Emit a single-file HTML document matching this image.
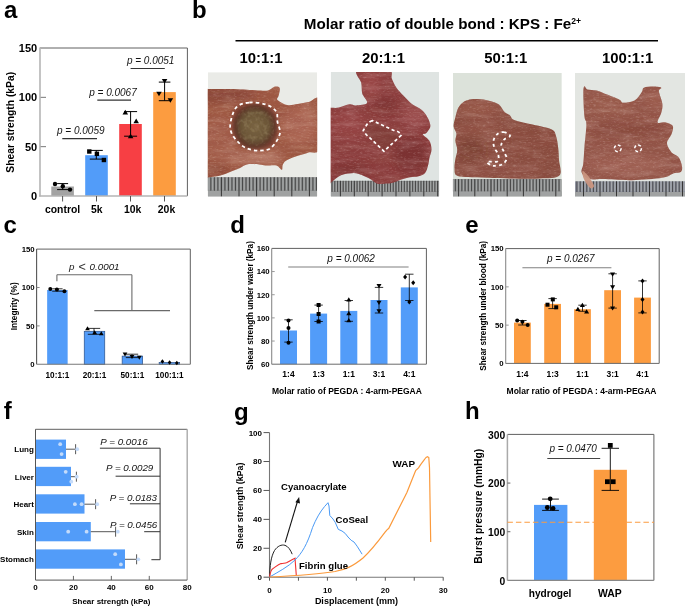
<!DOCTYPE html>
<html><head><meta charset="utf-8"><style>
html,body{margin:0;padding:0;background:#fff;}
svg{display:block;font-family:"Liberation Sans", sans-serif;will-change:transform;}
</style></head><body>
<svg width="685" height="606" viewBox="0 0 685 606">
<rect width="685" height="606" fill="#fff"/>
<text x="4" y="18.2" font-size="24" font-weight="bold" text-anchor="start" fill="#000">a</text>
<text x="192" y="18.2" font-size="24" font-weight="bold" text-anchor="start" fill="#000">b</text>
<text x="3.5" y="233" font-size="24" font-weight="bold" text-anchor="start" fill="#000">c</text>
<text x="230.3" y="233" font-size="24" font-weight="bold" text-anchor="start" fill="#000">d</text>
<text x="465.3" y="233" font-size="24" font-weight="bold" text-anchor="start" fill="#000">e</text>
<text x="3.7" y="419" font-size="24" font-weight="bold" text-anchor="start" fill="#000">f</text>
<text x="233.9" y="419.6" font-size="24" font-weight="bold" text-anchor="start" fill="#000">g</text>
<text x="465" y="419.2" font-size="24" font-weight="bold" text-anchor="start" fill="#000">h</text>
<line x1="40.0" y1="48.0" x2="187.4" y2="48.0" stroke="#606060" stroke-width="1"/>
<line x1="187.4" y1="48.0" x2="187.4" y2="196.0" stroke="#606060" stroke-width="1"/>
<line x1="40.0" y1="146.66666666666666" x2="46.0" y2="146.66666666666666" stroke="#777" stroke-width="1"/>
<line x1="40.0" y1="97.33333333333333" x2="46.0" y2="97.33333333333333" stroke="#777" stroke-width="1"/>
<rect x="51.3" y="186.5" width="22.6" height="9.5" fill="#a3a3a3"/>
<rect x="85.2" y="155.2" width="22.6" height="40.80000000000001" fill="#529cf9"/>
<rect x="119.2" y="124.0" width="22.6" height="72.0" fill="#f73f44"/>
<rect x="153.2" y="92.1" width="22.6" height="103.9" fill="#fc9c40"/>
<line x1="40.0" y1="47.5" x2="40.0" y2="196.6" stroke="#b5b5b5" stroke-width="1.6"/>
<line x1="39.2" y1="196.0" x2="187.4" y2="196.0" stroke="#b5b5b5" stroke-width="1.6"/>
<line x1="62.6" y1="196.0" x2="62.6" y2="201.5" stroke="#555" stroke-width="1"/>
<line x1="96.5" y1="196.0" x2="96.5" y2="201.5" stroke="#555" stroke-width="1"/>
<line x1="130.5" y1="196.0" x2="130.5" y2="201.5" stroke="#555" stroke-width="1"/>
<line x1="164.5" y1="196.0" x2="164.5" y2="201.5" stroke="#555" stroke-width="1"/>
<line x1="62.6" y1="183.6" x2="62.6" y2="189.6" stroke="#000" stroke-width="1"/>
<line x1="57.1" y1="183.6" x2="68.1" y2="183.6" stroke="#000" stroke-width="1"/>
<line x1="57.1" y1="189.6" x2="68.1" y2="189.6" stroke="#000" stroke-width="1"/>
<line x1="96.3" y1="150.4" x2="96.3" y2="159.1" stroke="#000" stroke-width="1"/>
<line x1="89.8" y1="150.4" x2="102.8" y2="150.4" stroke="#000" stroke-width="1"/>
<line x1="89.8" y1="159.1" x2="102.8" y2="159.1" stroke="#000" stroke-width="1"/>
<line x1="130.6" y1="111.6" x2="130.6" y2="136.2" stroke="#000" stroke-width="1"/>
<line x1="124.1" y1="111.6" x2="137.1" y2="111.6" stroke="#000" stroke-width="1"/>
<line x1="124.1" y1="136.2" x2="137.1" y2="136.2" stroke="#000" stroke-width="1"/>
<line x1="164.6" y1="82.1" x2="164.6" y2="100.7" stroke="#000" stroke-width="1"/>
<line x1="158.79999999999998" y1="82.1" x2="170.4" y2="82.1" stroke="#000" stroke-width="1"/>
<line x1="158.79999999999998" y1="100.7" x2="170.4" y2="100.7" stroke="#000" stroke-width="1"/>
<circle cx="55.00" cy="184.00" r="2.20" fill="#000"/>
<circle cx="62.80" cy="186.20" r="2.20" fill="#000"/>
<circle cx="70.00" cy="189.60" r="2.20" fill="#000"/>
<rect x="87.10" y="149.30" width="4.40" height="4.40" fill="#000"/>
<rect x="94.70" y="151.60" width="4.40" height="4.40" fill="#000"/>
<rect x="101.70" y="157.80" width="4.40" height="4.40" fill="#000"/>
<polygon points="125.30,109.83 128.07,114.45 122.53,114.45" fill="#000"/>
<polygon points="136.20,118.53 138.97,123.15 133.43,123.15" fill="#000"/>
<polygon points="130.60,133.73 133.37,138.35 127.83,138.35" fill="#000"/>
<polygon points="164.60,83.57 167.37,78.95 161.83,78.95" fill="#000"/>
<polygon points="159.00,96.37 161.77,91.75 156.23,91.75" fill="#000"/>
<polygon points="170.40,102.77 173.17,98.15 167.63,98.15" fill="#000"/>
<text x="57.0" y="134.3" font-size="10" font-style="italic" text-anchor="start" fill="#151515">p = 0.0059</text>
<line x1="62.3" y1="138.7" x2="97.0" y2="138.7" stroke="#333" stroke-width="1.2"/>
<text x="89.2" y="96.0" font-size="10" font-style="italic" text-anchor="start" fill="#151515">p = 0.0067</text>
<line x1="97.3" y1="100.2" x2="131.0" y2="100.2" stroke="#333" stroke-width="1.2"/>
<text x="126.9" y="63.8" font-size="10" font-style="italic" text-anchor="start" fill="#151515">p = 0.0051</text>
<line x1="130.6" y1="68.5" x2="164.8" y2="68.5" stroke="#333" stroke-width="1.2"/>
<text x="37.2" y="200.0" font-size="11" font-weight="bold" text-anchor="end" fill="#000">0</text>
<text x="37.2" y="150.66666666666666" font-size="11" font-weight="bold" text-anchor="end" fill="#000">50</text>
<text x="37.2" y="101.33333333333333" font-size="11" font-weight="bold" text-anchor="end" fill="#000">100</text>
<text x="37.2" y="52.0" font-size="11" font-weight="bold" text-anchor="end" fill="#000">150</text>
<text x="62.6" y="213.3" font-size="10.4" font-weight="bold" text-anchor="middle" fill="#000">control</text>
<text x="96.8" y="213.3" font-size="10.4" font-weight="bold" text-anchor="middle" fill="#000">5k</text>
<text x="132.6" y="213.3" font-size="10.4" font-weight="bold" text-anchor="middle" fill="#000">10k</text>
<text x="166.5" y="213.3" font-size="10.4" font-weight="bold" text-anchor="middle" fill="#000">20k</text>
<text x="14.3" y="122.3" font-size="10.3" font-weight="bold" text-anchor="middle" fill="#000" transform="rotate(-90 14.3 122.3)">Shear strength (kPa)</text>
<text x="303.8" y="29.0" font-size="15.2" font-weight="bold" text-anchor="start" fill="#000">Molar ratio of double bond : KPS : Fe<tspan font-size="8.6" dy="-5.4">2+</tspan></text>
<line x1="235.5" y1="40.8" x2="658.0" y2="40.8" stroke="#000" stroke-width="1.4"/>
<text x="261.0" y="63.1" font-size="14.9" font-weight="bold" text-anchor="middle" fill="#000">10:1:1</text>
<text x="383.4" y="63.1" font-size="14.9" font-weight="bold" text-anchor="middle" fill="#000">20:1:1</text>
<text x="505.8" y="63.1" font-size="14.9" font-weight="bold" text-anchor="middle" fill="#000">50:1:1</text>
<text x="627.7" y="63.1" font-size="14.9" font-weight="bold" text-anchor="middle" fill="#000">100:1:1</text>
<line x1="36.6" y1="249.1" x2="190.3" y2="249.1" stroke="#606060" stroke-width="1"/>
<line x1="190.3" y1="249.1" x2="190.3" y2="364.3" stroke="#606060" stroke-width="1"/>
<rect x="47.15" y="290.0" width="20.5" height="74.30000000000001" fill="#529cf9"/>
<rect x="84.25" y="331.3" width="20.5" height="33.0" fill="#529cf9" stroke="#2a4f88" stroke-width="0.7"/>
<rect x="122.15" y="356.1" width="20.5" height="8.199999999999989" fill="#529cf9" stroke="#2a4f88" stroke-width="0.7"/>
<rect x="159.15" y="362.6" width="20.5" height="1.6999999999999886" fill="#529cf9" stroke="#2a4f88" stroke-width="0.7"/>
<line x1="36.6" y1="249.1" x2="36.6" y2="364.3" stroke="#555" stroke-width="1.1"/>
<line x1="36.6" y1="364.3" x2="190.3" y2="364.3" stroke="#777" stroke-width="1.1"/>
<line x1="36.6" y1="325.9" x2="39.6" y2="325.9" stroke="#888" stroke-width="1"/>
<line x1="36.6" y1="287.5" x2="39.6" y2="287.5" stroke="#888" stroke-width="1"/>
<line x1="57.4" y1="288.8" x2="57.4" y2="291.2" stroke="#000" stroke-width="0.8"/>
<line x1="52.199999999999996" y1="288.8" x2="62.6" y2="288.8" stroke="#000" stroke-width="0.8"/>
<line x1="52.199999999999996" y1="291.2" x2="62.6" y2="291.2" stroke="#000" stroke-width="0.8"/>
<line x1="94.0" y1="328.4" x2="94.0" y2="334.3" stroke="#000" stroke-width="0.8"/>
<line x1="87.8" y1="328.4" x2="100.2" y2="328.4" stroke="#000" stroke-width="0.8"/>
<line x1="87.8" y1="334.3" x2="100.2" y2="334.3" stroke="#000" stroke-width="0.8"/>
<line x1="132.0" y1="354.2" x2="132.0" y2="357.6" stroke="#000" stroke-width="0.8"/>
<line x1="125.8" y1="354.2" x2="138.2" y2="354.2" stroke="#000" stroke-width="0.8"/>
<line x1="125.8" y1="357.6" x2="138.2" y2="357.6" stroke="#000" stroke-width="0.8"/>
<circle cx="50.30" cy="289.00" r="2.00" fill="#000"/>
<circle cx="56.90" cy="289.50" r="2.00" fill="#000"/>
<circle cx="64.40" cy="291.20" r="2.00" fill="#000"/>
<polygon points="87.50,326.21 89.89,330.20 85.11,330.20" fill="#000"/>
<polygon points="94.70,330.21 97.09,334.20 92.31,334.20" fill="#000"/>
<polygon points="101.30,331.31 103.69,335.30 98.91,335.30" fill="#000"/>
<polygon points="125.00,356.59 127.39,352.60 122.61,352.60" fill="#000"/>
<polygon points="132.00,358.89 134.39,354.90 129.61,354.90" fill="#000"/>
<polygon points="139.30,359.79 141.69,355.80 136.91,355.80" fill="#000"/>
<polygon points="162.40,359.35 164.20,361.60 162.40,363.85 160.60,361.60" fill="#000"/>
<polygon points="169.60,360.25 171.40,362.50 169.60,364.75 167.80,362.50" fill="#000"/>
<polygon points="176.80,360.75 178.60,363.00 176.80,365.25 175.00,363.00" fill="#000"/>
<line x1="56.9" y1="281.3" x2="56.9" y2="274.8" stroke="#6a6a6a" stroke-width="1.1"/>
<line x1="56.9" y1="274.8" x2="131.9" y2="274.8" stroke="#6a6a6a" stroke-width="1.1"/>
<line x1="131.9" y1="274.8" x2="131.9" y2="310.6" stroke="#6a6a6a" stroke-width="1.1"/>
<line x1="94.3" y1="310.6" x2="170.0" y2="310.6" stroke="#6a6a6a" stroke-width="1.1"/>
<text x="69.0" y="270.4" font-size="9.8" font-style="italic" text-anchor="start" fill="#151515">p</text>
<text x="78.4" y="270.6" font-size="12.6" text-anchor="start" fill="#333">&lt;</text>
<text x="89.6" y="270.4" font-size="9.8" font-style="italic" text-anchor="start" fill="#151515">0.0001</text>
<text x="34.7" y="367.1" font-size="7.8" font-weight="bold" text-anchor="end" fill="#000">0</text>
<text x="34.7" y="328.7" font-size="7.8" font-weight="bold" text-anchor="end" fill="#000">50</text>
<text x="34.7" y="290.3" font-size="7.8" font-weight="bold" text-anchor="end" fill="#000">100</text>
<text x="34.7" y="251.9" font-size="7.8" font-weight="bold" text-anchor="end" fill="#000">150</text>
<text x="57.4" y="377.7" font-size="8.2" font-weight="bold" text-anchor="middle" fill="#000">10:1:1</text>
<text x="94.5" y="377.7" font-size="8.2" font-weight="bold" text-anchor="middle" fill="#000">20:1:1</text>
<text x="132.4" y="377.7" font-size="8.2" font-weight="bold" text-anchor="middle" fill="#000">50:1:1</text>
<text x="169.4" y="377.7" font-size="8.2" font-weight="bold" text-anchor="middle" fill="#000">100:1:1</text>
<text x="17.3" y="306.3" font-size="8.3" font-weight="bold" text-anchor="middle" fill="#000" transform="rotate(-90 17.3 306.3)">Integrity (%)</text>
<line x1="271.7" y1="248.4" x2="426.4" y2="248.4" stroke="#606060" stroke-width="1"/>
<line x1="426.4" y1="248.4" x2="426.4" y2="364.2" stroke="#606060" stroke-width="1"/>
<rect x="280.0" y="330.5" width="17.0" height="33.69999999999999" fill="#529cf9"/>
<rect x="310.1" y="313.6" width="17.0" height="50.599999999999966" fill="#529cf9"/>
<rect x="340.3" y="310.9" width="17.0" height="53.30000000000001" fill="#529cf9"/>
<rect x="370.5" y="300.0" width="17.0" height="64.19999999999999" fill="#529cf9"/>
<rect x="400.8" y="287.4" width="17.0" height="76.80000000000001" fill="#529cf9"/>
<line x1="271.7" y1="248.4" x2="271.7" y2="364.2" stroke="#8a8a8a" stroke-width="1.1"/>
<line x1="271.7" y1="364.2" x2="426.4" y2="364.2" stroke="#6a6a6a" stroke-width="1.0"/>
<line x1="271.7" y1="341.03999999999996" x2="274.7" y2="341.03999999999996" stroke="#999" stroke-width="1"/>
<line x1="271.7" y1="317.88" x2="274.7" y2="317.88" stroke="#999" stroke-width="1"/>
<line x1="271.7" y1="294.72" x2="274.7" y2="294.72" stroke="#999" stroke-width="1"/>
<line x1="271.7" y1="271.56" x2="274.7" y2="271.56" stroke="#999" stroke-width="1"/>
<line x1="288.5" y1="319.8" x2="288.5" y2="342.1" stroke="#000" stroke-width="0.8"/>
<line x1="284.3" y1="319.8" x2="292.7" y2="319.8" stroke="#000" stroke-width="0.8"/>
<line x1="284.3" y1="342.1" x2="292.7" y2="342.1" stroke="#000" stroke-width="0.8"/>
<line x1="318.6" y1="305.1" x2="318.6" y2="321.5" stroke="#000" stroke-width="0.8"/>
<line x1="314.40000000000003" y1="305.1" x2="322.8" y2="305.1" stroke="#000" stroke-width="0.8"/>
<line x1="314.40000000000003" y1="321.5" x2="322.8" y2="321.5" stroke="#000" stroke-width="0.8"/>
<line x1="348.8" y1="300.5" x2="348.8" y2="321.3" stroke="#000" stroke-width="0.8"/>
<line x1="344.6" y1="300.5" x2="353.0" y2="300.5" stroke="#000" stroke-width="0.8"/>
<line x1="344.6" y1="321.3" x2="353.0" y2="321.3" stroke="#000" stroke-width="0.8"/>
<line x1="379.0" y1="287.4" x2="379.0" y2="313.0" stroke="#000" stroke-width="0.8"/>
<line x1="374.8" y1="287.4" x2="383.2" y2="287.4" stroke="#000" stroke-width="0.8"/>
<line x1="374.8" y1="313.0" x2="383.2" y2="313.0" stroke="#000" stroke-width="0.8"/>
<line x1="409.3" y1="274.2" x2="409.3" y2="300.5" stroke="#000" stroke-width="0.8"/>
<line x1="405.1" y1="274.2" x2="413.5" y2="274.2" stroke="#000" stroke-width="0.8"/>
<line x1="405.1" y1="300.5" x2="413.5" y2="300.5" stroke="#000" stroke-width="0.8"/>
<circle cx="288.50" cy="320.60" r="2.00" fill="#000"/>
<circle cx="288.50" cy="328.00" r="2.00" fill="#000"/>
<circle cx="288.50" cy="342.70" r="2.00" fill="#000"/>
<rect x="316.60" y="303.00" width="4.00" height="4.00" fill="#000"/>
<rect x="316.60" y="312.00" width="4.00" height="4.00" fill="#000"/>
<rect x="316.60" y="319.50" width="4.00" height="4.00" fill="#000"/>
<polygon points="348.80,297.28 351.32,301.48 346.28,301.48" fill="#000"/>
<polygon points="348.80,310.98 351.32,315.18 346.28,315.18" fill="#000"/>
<polygon points="348.80,318.08 351.32,322.28 346.28,322.28" fill="#000"/>
<polygon points="379.00,288.22 381.52,284.02 376.48,284.02" fill="#000"/>
<polygon points="379.00,304.92 381.52,300.72 376.48,300.72" fill="#000"/>
<polygon points="379.00,313.42 381.52,309.22 376.48,309.22" fill="#000"/>
<polygon points="405.10,274.50 407.10,277.00 405.10,279.50 403.10,277.00" fill="#000"/>
<polygon points="413.20,280.20 415.20,282.70 413.20,285.20 411.20,282.70" fill="#000"/>
<polygon points="409.30,299.40 411.30,301.90 409.30,304.40 407.30,301.90" fill="#000"/>
<text x="327.3" y="262.4" font-size="10" font-style="italic" text-anchor="start" fill="#111">p = 0.0062</text>
<line x1="288.2" y1="267.0" x2="408.6" y2="267.0" stroke="#808080" stroke-width="1.1"/>
<text x="269.7" y="367.0" font-size="7.8" font-weight="bold" text-anchor="end" fill="#000">60</text>
<text x="269.7" y="343.84" font-size="7.8" font-weight="bold" text-anchor="end" fill="#000">80</text>
<text x="269.7" y="320.68" font-size="7.8" font-weight="bold" text-anchor="end" fill="#000">100</text>
<text x="269.7" y="297.52000000000004" font-size="7.8" font-weight="bold" text-anchor="end" fill="#000">120</text>
<text x="269.7" y="274.36" font-size="7.8" font-weight="bold" text-anchor="end" fill="#000">140</text>
<text x="269.7" y="251.2" font-size="7.8" font-weight="bold" text-anchor="end" fill="#000">160</text>
<text x="288.5" y="376.6" font-size="8.5" font-weight="bold" text-anchor="middle" fill="#000">1:4</text>
<text x="318.6" y="376.6" font-size="8.5" font-weight="bold" text-anchor="middle" fill="#000">1:3</text>
<text x="348.8" y="376.6" font-size="8.5" font-weight="bold" text-anchor="middle" fill="#000">1:1</text>
<text x="379.0" y="376.6" font-size="8.5" font-weight="bold" text-anchor="middle" fill="#000">3:1</text>
<text x="409.3" y="376.6" font-size="8.5" font-weight="bold" text-anchor="middle" fill="#000">4:1</text>
<text x="252.6" y="305.5" font-size="8.2" font-weight="bold" text-anchor="middle" fill="#000" transform="rotate(-90 252.6 305.5)">Shear strength under water (kPa)</text>
<text x="272.0" y="394.4" font-size="8.5" font-weight="bold" text-anchor="start" fill="#000">Molar ratio of PEGDA : 4-arm-PEGAA</text>
<line x1="505.7" y1="248.6" x2="659.2" y2="248.6" stroke="#606060" stroke-width="1"/>
<line x1="659.2" y1="248.6" x2="659.2" y2="363.4" stroke="#606060" stroke-width="1"/>
<rect x="514.0" y="322.6" width="16.8" height="40.799999999999955" fill="#fc9c40"/>
<rect x="544.2" y="303.9" width="16.8" height="59.5" fill="#fc9c40"/>
<rect x="574.1" y="309.2" width="16.8" height="54.19999999999999" fill="#fc9c40"/>
<rect x="604.2" y="290.2" width="16.8" height="73.19999999999999" fill="#fc9c40"/>
<rect x="634.1" y="297.6" width="16.8" height="65.79999999999995" fill="#fc9c40"/>
<line x1="505.7" y1="248.6" x2="505.7" y2="363.4" stroke="#8a8a8a" stroke-width="1.1"/>
<line x1="505.7" y1="363.4" x2="659.2" y2="363.4" stroke="#6a6a6a" stroke-width="1.0"/>
<line x1="505.7" y1="325.1333333333333" x2="508.7" y2="325.1333333333333" stroke="#999" stroke-width="1"/>
<line x1="505.7" y1="286.8666666666667" x2="508.7" y2="286.8666666666667" stroke="#999" stroke-width="1"/>
<line x1="522.4" y1="320.5" x2="522.4" y2="325.0" stroke="#000" stroke-width="0.8"/>
<line x1="518.1999999999999" y1="320.5" x2="526.6" y2="320.5" stroke="#000" stroke-width="0.8"/>
<line x1="518.1999999999999" y1="325.0" x2="526.6" y2="325.0" stroke="#000" stroke-width="0.8"/>
<line x1="552.6" y1="298.6" x2="552.6" y2="308.6" stroke="#000" stroke-width="0.8"/>
<line x1="548.4" y1="298.6" x2="556.8000000000001" y2="298.6" stroke="#000" stroke-width="0.8"/>
<line x1="548.4" y1="308.6" x2="556.8000000000001" y2="308.6" stroke="#000" stroke-width="0.8"/>
<line x1="582.5" y1="305.2" x2="582.5" y2="311.3" stroke="#000" stroke-width="0.8"/>
<line x1="578.3" y1="305.2" x2="586.7" y2="305.2" stroke="#000" stroke-width="0.8"/>
<line x1="578.3" y1="311.3" x2="586.7" y2="311.3" stroke="#000" stroke-width="0.8"/>
<line x1="612.6" y1="273.8" x2="612.6" y2="308.1" stroke="#000" stroke-width="0.8"/>
<line x1="608.4" y1="273.8" x2="616.8000000000001" y2="273.8" stroke="#000" stroke-width="0.8"/>
<line x1="608.4" y1="308.1" x2="616.8000000000001" y2="308.1" stroke="#000" stroke-width="0.8"/>
<line x1="642.5" y1="280.9" x2="642.5" y2="312.9" stroke="#000" stroke-width="0.8"/>
<line x1="638.3" y1="280.9" x2="646.7" y2="280.9" stroke="#000" stroke-width="0.8"/>
<line x1="638.3" y1="312.9" x2="646.7" y2="312.9" stroke="#000" stroke-width="0.8"/>
<circle cx="517.20" cy="320.50" r="2.00" fill="#000"/>
<circle cx="522.40" cy="321.80" r="2.00" fill="#000"/>
<circle cx="527.70" cy="325.00" r="2.00" fill="#000"/>
<rect x="545.50" y="302.70" width="4.00" height="4.00" fill="#000"/>
<rect x="550.80" y="297.40" width="4.00" height="4.00" fill="#000"/>
<rect x="554.20" y="305.30" width="4.00" height="4.00" fill="#000"/>
<polygon points="577.90,306.68 580.42,310.88 575.38,310.88" fill="#000"/>
<polygon points="582.40,302.68 584.92,306.88 579.88,306.88" fill="#000"/>
<polygon points="586.60,309.28 589.12,313.48 584.08,313.48" fill="#000"/>
<polygon points="612.60,276.82 615.12,272.62 610.08,272.62" fill="#000"/>
<polygon points="612.60,289.52 615.12,285.32 610.08,285.32" fill="#000"/>
<polygon points="612.60,310.62 615.12,306.42 610.08,306.42" fill="#000"/>
<polygon points="642.50,278.40 644.50,280.90 642.50,283.40 640.50,280.90" fill="#000"/>
<polygon points="642.50,296.90 644.50,299.40 642.50,301.90 640.50,299.40" fill="#000"/>
<polygon points="642.50,309.60 644.50,312.10 642.50,314.60 640.50,312.10" fill="#000"/>
<text x="547.0" y="262.4" font-size="10" font-style="italic" text-anchor="start" fill="#111">p = 0.0267</text>
<line x1="522.4" y1="267.7" x2="611.4" y2="267.7" stroke="#808080" stroke-width="1.1"/>
<text x="503.7" y="366.2" font-size="7.8" font-weight="bold" text-anchor="end" fill="#000">0</text>
<text x="503.7" y="327.93333333333334" font-size="7.8" font-weight="bold" text-anchor="end" fill="#000">50</text>
<text x="503.7" y="289.6666666666667" font-size="7.8" font-weight="bold" text-anchor="end" fill="#000">100</text>
<text x="503.7" y="251.4" font-size="7.8" font-weight="bold" text-anchor="end" fill="#000">150</text>
<text x="522.4" y="376.6" font-size="8.5" font-weight="bold" text-anchor="middle" fill="#000">1:4</text>
<text x="552.6" y="376.6" font-size="8.5" font-weight="bold" text-anchor="middle" fill="#000">1:3</text>
<text x="582.5" y="376.6" font-size="8.5" font-weight="bold" text-anchor="middle" fill="#000">1:1</text>
<text x="612.6" y="376.6" font-size="8.5" font-weight="bold" text-anchor="middle" fill="#000">3:1</text>
<text x="642.5" y="376.6" font-size="8.5" font-weight="bold" text-anchor="middle" fill="#000">4:1</text>
<text x="485.6" y="305.8" font-size="8.2" font-weight="bold" text-anchor="middle" fill="#000" transform="rotate(-90 485.6 305.8)">Shear strength under blood (kPa)</text>
<text x="506.6" y="393.7" font-size="8.5" font-weight="bold" text-anchor="start" fill="#000">Molar ratio of PEGDA : 4-arm-PEGAA</text>
<line x1="35.5" y1="429.3" x2="187.2" y2="429.3" stroke="#606060" stroke-width="1"/>
<line x1="187.2" y1="429.3" x2="187.2" y2="580.1" stroke="#aaa" stroke-width="1.4"/>
<rect x="35.5" y="439.6" width="30.5" height="19.3" fill="#529cf9"/>
<line x1="66.0" y1="449.2" x2="75.6" y2="449.2" stroke="#444" stroke-width="0.9"/>
<line x1="75.6" y1="444.2" x2="75.6" y2="454.2" stroke="#444" stroke-width="0.9"/>
<circle cx="60.2" cy="444.2" r="1.9" fill="#c4dbfa"/>
<circle cx="61.6" cy="454.1" r="1.9" fill="#c4dbfa"/>
<circle cx="77.2" cy="449.2" r="1.9" fill="#c4dbfa"/>
<text x="33.9" y="452.2" font-size="8" font-weight="bold" text-anchor="end" fill="#000">Lung</text>
<rect x="35.5" y="466.8" width="35.5" height="19.3" fill="#529cf9"/>
<line x1="71.0" y1="476.7" x2="76.4" y2="476.7" stroke="#444" stroke-width="0.9"/>
<line x1="76.4" y1="471.7" x2="76.4" y2="481.7" stroke="#444" stroke-width="0.9"/>
<circle cx="65.7" cy="471.8" r="1.9" fill="#c4dbfa"/>
<circle cx="71.3" cy="481.7" r="1.9" fill="#c4dbfa"/>
<circle cx="76.7" cy="476.7" r="1.9" fill="#c4dbfa"/>
<text x="33.9" y="479.7" font-size="8" font-weight="bold" text-anchor="end" fill="#000">Liver</text>
<rect x="35.5" y="494.3" width="49.0" height="19.3" fill="#529cf9"/>
<line x1="84.5" y1="504.2" x2="95.6" y2="504.2" stroke="#444" stroke-width="0.9"/>
<line x1="95.6" y1="499.2" x2="95.6" y2="509.2" stroke="#444" stroke-width="0.9"/>
<circle cx="74.9" cy="504.2" r="1.9" fill="#c4dbfa"/>
<circle cx="81.6" cy="504.2" r="1.9" fill="#c4dbfa"/>
<circle cx="97.2" cy="504.2" r="1.9" fill="#c4dbfa"/>
<text x="33.9" y="507.2" font-size="8" font-weight="bold" text-anchor="end" fill="#000">Heart</text>
<rect x="35.5" y="522.0" width="55.3" height="19.3" fill="#529cf9"/>
<line x1="90.8" y1="531.7" x2="115.6" y2="531.7" stroke="#444" stroke-width="0.9"/>
<line x1="115.6" y1="526.7" x2="115.6" y2="536.7" stroke="#444" stroke-width="0.9"/>
<circle cx="68.2" cy="531.7" r="1.9" fill="#c4dbfa"/>
<circle cx="86.6" cy="531.7" r="1.9" fill="#c4dbfa"/>
<circle cx="117.8" cy="531.7" r="1.9" fill="#c4dbfa"/>
<text x="33.9" y="534.7" font-size="8" font-weight="bold" text-anchor="end" fill="#000">Skin</text>
<rect x="35.5" y="549.4" width="89.5" height="19.3" fill="#529cf9"/>
<line x1="125.0" y1="559.3" x2="136.6" y2="559.3" stroke="#444" stroke-width="0.9"/>
<line x1="136.6" y1="554.3" x2="136.6" y2="564.3" stroke="#444" stroke-width="0.9"/>
<circle cx="115.2" cy="554.2" r="1.9" fill="#c4dbfa"/>
<circle cx="120.9" cy="564.4" r="1.9" fill="#c4dbfa"/>
<circle cx="138.3" cy="559.3" r="1.9" fill="#c4dbfa"/>
<text x="33.9" y="562.3" font-size="8" font-weight="bold" text-anchor="end" fill="#000">Stomach</text>
<line x1="35.5" y1="429.3" x2="35.5" y2="580.1" stroke="#555" stroke-width="1.0"/>
<line x1="35.5" y1="580.1" x2="187.2" y2="580.1" stroke="#555" stroke-width="1.0"/>
<text x="35.5" y="589.9" font-size="8" font-weight="bold" text-anchor="middle" fill="#000">0</text>
<line x1="73.425" y1="575.9" x2="73.425" y2="580.1" stroke="#555" stroke-width="0.9"/>
<text x="73.425" y="589.9" font-size="8" font-weight="bold" text-anchor="middle" fill="#000">20</text>
<line x1="111.35" y1="575.9" x2="111.35" y2="580.1" stroke="#555" stroke-width="0.9"/>
<text x="111.35" y="589.9" font-size="8" font-weight="bold" text-anchor="middle" fill="#000">40</text>
<line x1="149.27499999999998" y1="575.9" x2="149.27499999999998" y2="580.1" stroke="#555" stroke-width="0.9"/>
<text x="149.27499999999998" y="589.9" font-size="8" font-weight="bold" text-anchor="middle" fill="#000">60</text>
<text x="187.2" y="589.9" font-size="8" font-weight="bold" text-anchor="middle" fill="#000">80</text>
<text x="111.3" y="603.8" font-size="8" font-weight="bold" text-anchor="middle" fill="#000">Shear strength (kPa)</text>
<text x="100.3" y="444.5" font-size="9.8" font-style="italic" text-anchor="start" fill="#151515">P = 0.0016</text>
<line x1="99.9" y1="448.2" x2="160.1" y2="448.2" stroke="#333" stroke-width="1.0"/>
<text x="106.0" y="471.1" font-size="9.8" font-style="italic" text-anchor="start" fill="#151515">P = 0.0029</text>
<line x1="115.6" y1="476.2" x2="160.1" y2="476.2" stroke="#333" stroke-width="1.0"/>
<text x="109.7" y="501.3" font-size="9.8" font-style="italic" text-anchor="start" fill="#151515">P = 0.0183</text>
<line x1="129.9" y1="503.8" x2="160.1" y2="503.8" stroke="#333" stroke-width="1.0"/>
<text x="110.0" y="527.6" font-size="9.8" font-style="italic" text-anchor="start" fill="#151515">P = 0.0456</text>
<line x1="144.2" y1="531.7" x2="160.1" y2="531.7" stroke="#333" stroke-width="1.0"/>
<line x1="151.4" y1="559.7" x2="160.1" y2="559.7" stroke="#333" stroke-width="1.0"/>
<line x1="160.1" y1="448.2" x2="160.1" y2="559.7" stroke="#333" stroke-width="1.0"/>
<line x1="269.5" y1="432.6" x2="269.5" y2="577.2" stroke="#777" stroke-width="1.1"/>
<line x1="269.5" y1="577.2" x2="443.2" y2="577.2" stroke="#777" stroke-width="1.1"/>
<line x1="263.5" y1="577.2" x2="269.5" y2="577.2" stroke="#555" stroke-width="1"/>
<text x="262.0" y="580.1" font-size="8" font-weight="bold" text-anchor="end" fill="#000">0</text>
<line x1="263.5" y1="548.2800000000001" x2="269.5" y2="548.2800000000001" stroke="#555" stroke-width="1"/>
<text x="262.0" y="551.1800000000001" font-size="8" font-weight="bold" text-anchor="end" fill="#000">20</text>
<line x1="263.5" y1="519.36" x2="269.5" y2="519.36" stroke="#555" stroke-width="1"/>
<text x="262.0" y="522.26" font-size="8" font-weight="bold" text-anchor="end" fill="#000">40</text>
<line x1="263.5" y1="490.44000000000005" x2="269.5" y2="490.44000000000005" stroke="#555" stroke-width="1"/>
<text x="262.0" y="493.34000000000003" font-size="8" font-weight="bold" text-anchor="end" fill="#000">60</text>
<line x1="263.5" y1="461.52000000000004" x2="269.5" y2="461.52000000000004" stroke="#555" stroke-width="1"/>
<text x="262.0" y="464.42" font-size="8" font-weight="bold" text-anchor="end" fill="#000">80</text>
<line x1="263.5" y1="432.6" x2="269.5" y2="432.6" stroke="#555" stroke-width="1"/>
<text x="262.0" y="435.5" font-size="8" font-weight="bold" text-anchor="end" fill="#000">100</text>
<line x1="269.5" y1="577.2" x2="269.5" y2="580.7" stroke="#555" stroke-width="1"/>
<line x1="298.45" y1="577.2" x2="298.45" y2="580.7" stroke="#555" stroke-width="1"/>
<line x1="327.4" y1="577.2" x2="327.4" y2="580.7" stroke="#555" stroke-width="1"/>
<line x1="356.35" y1="577.2" x2="356.35" y2="580.7" stroke="#555" stroke-width="1"/>
<line x1="385.3" y1="577.2" x2="385.3" y2="580.7" stroke="#555" stroke-width="1"/>
<line x1="414.25" y1="577.2" x2="414.25" y2="580.7" stroke="#555" stroke-width="1"/>
<line x1="443.2" y1="577.2" x2="443.2" y2="580.7" stroke="#555" stroke-width="1"/>
<text x="269.5" y="592.6" font-size="8" font-weight="bold" text-anchor="middle" fill="#000">0</text>
<text x="327.4" y="592.6" font-size="8" font-weight="bold" text-anchor="middle" fill="#000">10</text>
<text x="385.3" y="592.6" font-size="8" font-weight="bold" text-anchor="middle" fill="#000">20</text>
<text x="443.2" y="592.6" font-size="8" font-weight="bold" text-anchor="middle" fill="#000">30</text>
<text x="356.4" y="603.8" font-size="9" font-weight="bold" text-anchor="middle" fill="#000">Displacement (mm)</text>
<text x="242.6" y="505.9" font-size="8.9" font-weight="bold" text-anchor="middle" fill="#000" transform="rotate(-90 242.6 505.9)">Shear strength (kPa)</text>
<path d="M269.6,577 C269.9,566 270.8,557 274.5,550.5 C277.5,546 281.5,544.3 285,545.3 C288.5,546.6 290.5,550 292.2,554.2" fill="none" stroke="#222" stroke-width="1.0"/>
<path d="M269.6,577 C270.3,572 271,569.5 273,568.5 C276,566.5 278,564.6 281,563.6 C284,563 285,563.5 287,562.6 C290,561 292,559.6 295,558.2 L296.3,575.5" fill="none" stroke="#f03030" stroke-width="1.1"/>
<path d="M269.6,577 C278,572 288,567 295,560 C302,553 307,545 312.6,527.4 C316,519 320,512 324.5,506.6 L328,502.7 L329,506 L329.8,515.5 L333,519 L335.3,522.5 L338.3,529.4 L342,531 L345.2,533.4 L348,537 L351.2,540.3 L354,542 L357.1,546.2 L359.5,550 L362.1,554.2" fill="none" stroke="#4a9af5" stroke-width="1.0"/>
<path d="M269.6,577 C300,575.5 320,574 335,571.5 C345,569.5 352,567 363,558 C372,550 380,539 386.5,530.3 L388.8,528.3 C393,520 400,506 406.9,492.5 C410,485 413,477 415.6,470.7 L418.5,467.8 C421,464 423,461.5 426,457.5 L427.5,456.7 L428.8,457.6 L429.5,467.8 L430.7,541.9" fill="none" stroke="#fb9a3c" stroke-width="1.2"/>
<line x1="285.2" y1="542.3" x2="297.6" y2="501" stroke="#111" stroke-width="1.1"/>
<polygon points="299.10,497.00 300.00,503.50 295.40,502.30" fill="#111"/>
<text x="281.0" y="490.4" font-size="9.6" font-weight="bold" text-anchor="start" fill="#000">Cyanoacrylate</text>
<text x="335.6" y="522.5" font-size="9.6" font-weight="bold" text-anchor="start" fill="#000">CoSeal</text>
<text x="299.0" y="569.0" font-size="9.6" font-weight="bold" text-anchor="start" fill="#000">Fibrin glue</text>
<text x="392.5" y="467.2" font-size="9.9" font-weight="bold" text-anchor="start" fill="#000">WAP</text>
<line x1="507.4" y1="434.4" x2="653.9" y2="434.4" stroke="#606060" stroke-width="1"/>
<line x1="653.9" y1="434.4" x2="653.9" y2="580.4" stroke="#606060" stroke-width="1"/>
<rect x="534.0" y="504.9" width="33.4" height="75.5" fill="#529cf9"/>
<rect x="593.8" y="469.8" width="33.1" height="110.59999999999997" fill="#fc9c40"/>
<line x1="507.4" y1="434.4" x2="507.4" y2="580.4" stroke="#aaa" stroke-width="1.5"/>
<line x1="507.4" y1="580.4" x2="653.9" y2="580.4" stroke="#888" stroke-width="1.2"/>
<line x1="507.4" y1="531.7333333333333" x2="510.4" y2="531.7333333333333" stroke="#666" stroke-width="1"/>
<line x1="507.4" y1="483.0666666666666" x2="510.4" y2="483.0666666666666" stroke="#666" stroke-width="1"/>
<line x1="507.4" y1="522.3" x2="653.9" y2="522.3" stroke="#fc9c40" stroke-width="1.1" stroke-dasharray="5.5,3"/>
<line x1="550.5" y1="499.1" x2="550.5" y2="510.4" stroke="#000" stroke-width="0.9"/>
<line x1="542.1" y1="499.1" x2="558.9" y2="499.1" stroke="#000" stroke-width="0.9"/>
<line x1="542.1" y1="510.4" x2="558.9" y2="510.4" stroke="#000" stroke-width="0.9"/>
<line x1="610.3" y1="448.3" x2="610.3" y2="490.4" stroke="#000" stroke-width="0.9"/>
<line x1="601.5999999999999" y1="448.3" x2="619.0" y2="448.3" stroke="#000" stroke-width="0.9"/>
<line x1="601.5999999999999" y1="490.4" x2="619.0" y2="490.4" stroke="#000" stroke-width="0.9"/>
<circle cx="550.20" cy="498.80" r="2.40" fill="#000"/>
<circle cx="547.30" cy="507.50" r="2.40" fill="#000"/>
<circle cx="553.10" cy="508.40" r="2.40" fill="#000"/>
<rect x="607.90" y="443.00" width="4.80" height="4.80" fill="#000"/>
<rect x="605.00" y="479.30" width="4.80" height="4.80" fill="#000"/>
<rect x="610.80" y="479.30" width="4.80" height="4.80" fill="#000"/>
<text x="549.4" y="452.4" font-size="10" font-style="italic" text-anchor="start" fill="#151515">p = 0.0470</text>
<line x1="547.3" y1="458.5" x2="600.2" y2="458.5" stroke="#444" stroke-width="1.1"/>
<text x="505.2" y="584.8" font-size="10.3" font-weight="bold" text-anchor="end" fill="#000">0</text>
<text x="505.2" y="536.1333333333333" font-size="10.3" font-weight="bold" text-anchor="end" fill="#000">100</text>
<text x="505.2" y="487.4666666666666" font-size="10.3" font-weight="bold" text-anchor="end" fill="#000">200</text>
<text x="505.2" y="438.79999999999995" font-size="10.3" font-weight="bold" text-anchor="end" fill="#000">300</text>
<text x="550.1" y="596.8" font-size="10.1" font-weight="bold" text-anchor="middle" fill="#000">hydrogel</text>
<text x="609.9" y="596.8" font-size="10.4" font-weight="bold" text-anchor="middle" fill="#000">WAP</text>
<text x="482.3" y="506.3" font-size="10.3" font-weight="bold" text-anchor="middle" fill="#000" transform="rotate(-90 482.3 506.3)">Burst pressure (mmHg)</text>
<defs><filter id="tex" x="0" y="0" width="100%" height="100%"><feTurbulence type="fractalNoise" baseFrequency="0.05 0.22" numOctaves="3" seed="3" result="n"/><feColorMatrix in="n" type="matrix" values="0 0 0 0 1  0 0 0 0 0.85  0 0 0 0 0.85  1.3 0 0 0 -0.55" result="m"/><feComposite in="m" in2="SourceGraphic" operator="in"/></filter><filter id="texd" x="0" y="0" width="100%" height="100%"><feTurbulence type="fractalNoise" baseFrequency="0.03 0.12" numOctaves="2" seed="11" result="n"/><feColorMatrix in="n" type="matrix" values="0 0 0 0 0.3  0 0 0 0 0.08  0 0 0 0 0.06  1.4 0 0 0 -0.6" result="m"/><feComposite in="m" in2="SourceGraphic" operator="in"/></filter><filter id="tex2" x="0" y="0" width="100%" height="100%"><feTurbulence type="fractalNoise" baseFrequency="0.25" numOctaves="2" seed="7" result="n"/><feColorMatrix in="n" type="matrix" values="0 0 0 0 0.62  0 0 0 0 0.52  0 0 0 0 0.3  1.6 0 0 0 -0.7" result="m"/><feComposite in="m" in2="SourceGraphic" operator="in"/></filter><radialGradient id="patch1" cx="0.5" cy="0.5" r="0.5"><stop offset="0" stop-color="#7a6442"/><stop offset="0.62" stop-color="#6a5436"/><stop offset="0.84" stop-color="#5c3628"/><stop offset="1" stop-color="#6a3428" stop-opacity="0.6"/></radialGradient><filter id="blur1" x="-20%" y="-20%" width="140%" height="140%"><feGaussianBlur stdDeviation="1.6"/></filter><filter id="texf" x="0" y="0" width="100%" height="100%"><feTurbulence type="fractalNoise" baseFrequency="0.3 0.8" numOctaves="2" seed="5" result="n"/><feColorMatrix in="n" type="matrix" values="0 0 0 0 1  0 0 0 0 0.9  0 0 0 0 0.88  2.2 0 0 0 -1.15" result="m"/><feComposite in="m" in2="SourceGraphic" operator="in"/></filter><filter id="vblur" x="-30%" y="-30%" width="160%" height="160%"><feGaussianBlur stdDeviation="4"/></filter></defs>
<clipPath id="clip1"><rect x="207.8" y="72.2" width="109.39999999999998" height="124.39999999999999"/></clipPath>
<g clip-path="url(#clip1)">
<rect x="207.8" y="72.2" width="109.39999999999998" height="124.39999999999999" fill="#eaebe7"/>
<rect x="207.8" y="177.2" width="109.39999999999998" height="19.400000000000006" fill="#8e9090"/>
<rect x="207.8" y="190.78" width="109.39999999999998" height="5.820000000000001" fill="#a0a2a2"/>
<line x1="207.32" y1="177.2" x2="207.32" y2="190.78" stroke="#353535" stroke-width="0.8"/>
<line x1="209.08" y1="178.2" x2="209.08" y2="189.81" stroke="#acaeae" stroke-width="0.8"/>
<line x1="210.84" y1="177.2" x2="210.84" y2="190.78" stroke="#353535" stroke-width="0.8"/>
<line x1="212.60" y1="178.2" x2="212.60" y2="189.81" stroke="#acaeae" stroke-width="0.8"/>
<line x1="214.36" y1="177.2" x2="214.36" y2="190.78" stroke="#353535" stroke-width="0.8"/>
<line x1="216.12" y1="178.2" x2="216.12" y2="189.81" stroke="#acaeae" stroke-width="0.8"/>
<line x1="217.88" y1="177.2" x2="217.88" y2="190.78" stroke="#353535" stroke-width="0.8"/>
<line x1="219.64" y1="178.2" x2="219.64" y2="189.81" stroke="#acaeae" stroke-width="0.8"/>
<line x1="221.40" y1="177.2" x2="221.40" y2="196.6" stroke="#353535" stroke-width="1.0"/>
<line x1="223.16" y1="178.2" x2="223.16" y2="189.81" stroke="#acaeae" stroke-width="0.8"/>
<line x1="224.92" y1="177.2" x2="224.92" y2="190.78" stroke="#353535" stroke-width="0.8"/>
<line x1="226.68" y1="178.2" x2="226.68" y2="189.81" stroke="#acaeae" stroke-width="0.8"/>
<line x1="228.44" y1="177.2" x2="228.44" y2="190.78" stroke="#353535" stroke-width="0.8"/>
<line x1="230.20" y1="178.2" x2="230.20" y2="189.81" stroke="#acaeae" stroke-width="0.8"/>
<line x1="231.96" y1="177.2" x2="231.96" y2="190.78" stroke="#353535" stroke-width="0.8"/>
<line x1="233.72" y1="178.2" x2="233.72" y2="189.81" stroke="#acaeae" stroke-width="0.8"/>
<line x1="235.48" y1="177.2" x2="235.48" y2="190.78" stroke="#353535" stroke-width="0.8"/>
<line x1="237.24" y1="178.2" x2="237.24" y2="189.81" stroke="#acaeae" stroke-width="0.8"/>
<line x1="239.00" y1="177.2" x2="239.00" y2="196.6" stroke="#353535" stroke-width="1.0"/>
<line x1="240.76" y1="178.2" x2="240.76" y2="189.81" stroke="#acaeae" stroke-width="0.8"/>
<line x1="242.52" y1="177.2" x2="242.52" y2="190.78" stroke="#353535" stroke-width="0.8"/>
<line x1="244.28" y1="178.2" x2="244.28" y2="189.81" stroke="#acaeae" stroke-width="0.8"/>
<line x1="246.04" y1="177.2" x2="246.04" y2="190.78" stroke="#353535" stroke-width="0.8"/>
<line x1="247.80" y1="178.2" x2="247.80" y2="189.81" stroke="#acaeae" stroke-width="0.8"/>
<line x1="249.56" y1="177.2" x2="249.56" y2="190.78" stroke="#353535" stroke-width="0.8"/>
<line x1="251.32" y1="178.2" x2="251.32" y2="189.81" stroke="#acaeae" stroke-width="0.8"/>
<line x1="253.08" y1="177.2" x2="253.08" y2="190.78" stroke="#353535" stroke-width="0.8"/>
<line x1="254.84" y1="178.2" x2="254.84" y2="189.81" stroke="#acaeae" stroke-width="0.8"/>
<line x1="256.60" y1="177.2" x2="256.60" y2="196.6" stroke="#353535" stroke-width="1.0"/>
<line x1="258.36" y1="178.2" x2="258.36" y2="189.81" stroke="#acaeae" stroke-width="0.8"/>
<line x1="260.12" y1="177.2" x2="260.12" y2="190.78" stroke="#353535" stroke-width="0.8"/>
<line x1="261.88" y1="178.2" x2="261.88" y2="189.81" stroke="#acaeae" stroke-width="0.8"/>
<line x1="263.64" y1="177.2" x2="263.64" y2="190.78" stroke="#353535" stroke-width="0.8"/>
<line x1="265.40" y1="178.2" x2="265.40" y2="189.81" stroke="#acaeae" stroke-width="0.8"/>
<line x1="267.16" y1="177.2" x2="267.16" y2="190.78" stroke="#353535" stroke-width="0.8"/>
<line x1="268.92" y1="178.2" x2="268.92" y2="189.81" stroke="#acaeae" stroke-width="0.8"/>
<line x1="270.68" y1="177.2" x2="270.68" y2="190.78" stroke="#353535" stroke-width="0.8"/>
<line x1="272.44" y1="178.2" x2="272.44" y2="189.81" stroke="#acaeae" stroke-width="0.8"/>
<line x1="274.20" y1="177.2" x2="274.20" y2="196.6" stroke="#353535" stroke-width="1.0"/>
<line x1="275.96" y1="178.2" x2="275.96" y2="189.81" stroke="#acaeae" stroke-width="0.8"/>
<line x1="277.72" y1="177.2" x2="277.72" y2="190.78" stroke="#353535" stroke-width="0.8"/>
<line x1="279.48" y1="178.2" x2="279.48" y2="189.81" stroke="#acaeae" stroke-width="0.8"/>
<line x1="281.24" y1="177.2" x2="281.24" y2="190.78" stroke="#353535" stroke-width="0.8"/>
<line x1="283.00" y1="178.2" x2="283.00" y2="189.81" stroke="#acaeae" stroke-width="0.8"/>
<line x1="284.76" y1="177.2" x2="284.76" y2="190.78" stroke="#353535" stroke-width="0.8"/>
<line x1="286.52" y1="178.2" x2="286.52" y2="189.81" stroke="#acaeae" stroke-width="0.8"/>
<line x1="288.28" y1="177.2" x2="288.28" y2="190.78" stroke="#353535" stroke-width="0.8"/>
<line x1="290.04" y1="178.2" x2="290.04" y2="189.81" stroke="#acaeae" stroke-width="0.8"/>
<line x1="291.80" y1="177.2" x2="291.80" y2="196.6" stroke="#353535" stroke-width="1.0"/>
<line x1="293.56" y1="178.2" x2="293.56" y2="189.81" stroke="#acaeae" stroke-width="0.8"/>
<line x1="295.32" y1="177.2" x2="295.32" y2="190.78" stroke="#353535" stroke-width="0.8"/>
<line x1="297.08" y1="178.2" x2="297.08" y2="189.81" stroke="#acaeae" stroke-width="0.8"/>
<line x1="298.84" y1="177.2" x2="298.84" y2="190.78" stroke="#353535" stroke-width="0.8"/>
<line x1="300.60" y1="178.2" x2="300.60" y2="189.81" stroke="#acaeae" stroke-width="0.8"/>
<line x1="302.36" y1="177.2" x2="302.36" y2="190.78" stroke="#353535" stroke-width="0.8"/>
<line x1="304.12" y1="178.2" x2="304.12" y2="189.81" stroke="#acaeae" stroke-width="0.8"/>
<line x1="305.88" y1="177.2" x2="305.88" y2="190.78" stroke="#353535" stroke-width="0.8"/>
<line x1="307.64" y1="178.2" x2="307.64" y2="189.81" stroke="#acaeae" stroke-width="0.8"/>
<line x1="309.40" y1="177.2" x2="309.40" y2="196.6" stroke="#353535" stroke-width="1.0"/>
<line x1="311.16" y1="178.2" x2="311.16" y2="189.81" stroke="#acaeae" stroke-width="0.8"/>
<line x1="312.92" y1="177.2" x2="312.92" y2="190.78" stroke="#353535" stroke-width="0.8"/>
<line x1="314.68" y1="178.2" x2="314.68" y2="189.81" stroke="#acaeae" stroke-width="0.8"/>
<line x1="316.44" y1="177.2" x2="316.44" y2="190.78" stroke="#353535" stroke-width="0.8"/>
<line x1="318.20" y1="178.2" x2="318.20" y2="189.81" stroke="#acaeae" stroke-width="0.8"/>
<path d="M196.0,177.0 C194.0,162.2 194.0,103.6 196.0,88.9 C198.0,74.2 202.1,88.9 207.8,88.9 C213.5,88.9 222.1,88.8 230.0,89.0 C237.9,89.2 248.7,90.0 255.0,90.2 C261.3,90.4 264.8,91.0 268.0,90.4 C271.2,89.8 272.4,87.2 274.3,86.8 C276.2,86.4 279.0,86.5 279.7,88.0 C280.4,89.5 279.0,93.8 278.6,95.8 C278.2,97.8 276.1,98.5 277.5,100.0 C278.9,101.5 283.8,104.3 287.2,105.0 C290.6,105.7 294.3,104.5 297.9,104.0 C301.5,103.5 304.9,102.6 308.6,102.0 C312.3,101.4 318.1,93.0 320.0,100.5 C321.9,108.0 321.9,138.6 320.0,147.3 C318.1,156.0 312.3,151.2 308.6,152.6 C304.9,154.0 301.5,154.6 297.9,155.8 C294.3,157.1 289.7,158.7 287.2,160.1 C284.7,161.5 283.8,162.8 282.9,164.4 C282.0,166.0 282.9,169.6 281.8,169.8 C280.7,170.0 279.2,166.2 276.5,165.5 C273.8,164.8 268.6,165.7 265.7,165.5 C262.8,165.3 262.4,164.6 259.3,164.4 C256.2,164.2 250.0,163.8 246.8,164.4 C243.6,165.0 242.8,166.7 240.0,168.0 C237.2,169.3 233.0,170.8 230.0,172.0 C227.0,173.2 224.5,174.2 222.0,175.0 C219.5,175.8 217.4,176.1 215.0,176.5 C212.6,176.9 211.0,177.4 207.8,177.5 C204.6,177.6 198.0,191.8 196.0,177.0Z" fill="#9e5842"/>
<clipPath id="tc1"><path d="M196.0,177.0 C194.0,162.2 194.0,103.6 196.0,88.9 C198.0,74.2 202.1,88.9 207.8,88.9 C213.5,88.9 222.1,88.8 230.0,89.0 C237.9,89.2 248.7,90.0 255.0,90.2 C261.3,90.4 264.8,91.0 268.0,90.4 C271.2,89.8 272.4,87.2 274.3,86.8 C276.2,86.4 279.0,86.5 279.7,88.0 C280.4,89.5 279.0,93.8 278.6,95.8 C278.2,97.8 276.1,98.5 277.5,100.0 C278.9,101.5 283.8,104.3 287.2,105.0 C290.6,105.7 294.3,104.5 297.9,104.0 C301.5,103.5 304.9,102.6 308.6,102.0 C312.3,101.4 318.1,93.0 320.0,100.5 C321.9,108.0 321.9,138.6 320.0,147.3 C318.1,156.0 312.3,151.2 308.6,152.6 C304.9,154.0 301.5,154.6 297.9,155.8 C294.3,157.1 289.7,158.7 287.2,160.1 C284.7,161.5 283.8,162.8 282.9,164.4 C282.0,166.0 282.9,169.6 281.8,169.8 C280.7,170.0 279.2,166.2 276.5,165.5 C273.8,164.8 268.6,165.7 265.7,165.5 C262.8,165.3 262.4,164.6 259.3,164.4 C256.2,164.2 250.0,163.8 246.8,164.4 C243.6,165.0 242.8,166.7 240.0,168.0 C237.2,169.3 233.0,170.8 230.0,172.0 C227.0,173.2 224.5,174.2 222.0,175.0 C219.5,175.8 217.4,176.1 215.0,176.5 C212.6,176.9 211.0,177.4 207.8,177.5 C204.6,177.6 198.0,191.8 196.0,177.0Z"/></clipPath><g clip-path="url(#tc1)" filter="url(#vblur)">
<ellipse cx="225" cy="95" rx="30" ry="8" fill="#7e3e30" opacity="0.6"/>
<ellipse cx="300" cy="125" rx="18" ry="20" fill="#b46e5e" opacity="0.6"/>
<ellipse cx="255" cy="158" rx="30" ry="6" fill="#c89484" opacity="0.55"/>
<ellipse cx="220" cy="140" rx="14" ry="25" fill="#a86454" opacity="0.5"/>
<ellipse cx="215" cy="170" rx="15" ry="6" fill="#7a3a2e" opacity="0.5"/>
</g>
<path d="M196.0,177.0 C194.0,162.2 194.0,103.6 196.0,88.9 C198.0,74.2 202.1,88.9 207.8,88.9 C213.5,88.9 222.1,88.8 230.0,89.0 C237.9,89.2 248.7,90.0 255.0,90.2 C261.3,90.4 264.8,91.0 268.0,90.4 C271.2,89.8 272.4,87.2 274.3,86.8 C276.2,86.4 279.0,86.5 279.7,88.0 C280.4,89.5 279.0,93.8 278.6,95.8 C278.2,97.8 276.1,98.5 277.5,100.0 C278.9,101.5 283.8,104.3 287.2,105.0 C290.6,105.7 294.3,104.5 297.9,104.0 C301.5,103.5 304.9,102.6 308.6,102.0 C312.3,101.4 318.1,93.0 320.0,100.5 C321.9,108.0 321.9,138.6 320.0,147.3 C318.1,156.0 312.3,151.2 308.6,152.6 C304.9,154.0 301.5,154.6 297.9,155.8 C294.3,157.1 289.7,158.7 287.2,160.1 C284.7,161.5 283.8,162.8 282.9,164.4 C282.0,166.0 282.9,169.6 281.8,169.8 C280.7,170.0 279.2,166.2 276.5,165.5 C273.8,164.8 268.6,165.7 265.7,165.5 C262.8,165.3 262.4,164.6 259.3,164.4 C256.2,164.2 250.0,163.8 246.8,164.4 C243.6,165.0 242.8,166.7 240.0,168.0 C237.2,169.3 233.0,170.8 230.0,172.0 C227.0,173.2 224.5,174.2 222.0,175.0 C219.5,175.8 217.4,176.1 215.0,176.5 C212.6,176.9 211.0,177.4 207.8,177.5 C204.6,177.6 198.0,191.8 196.0,177.0Z" fill="#f0c8a8" filter="url(#texd)" opacity="0.5"/>
<filter id="tx1" x="0" y="0" width="100%" height="100%"><feTurbulence type="fractalNoise" baseFrequency="0.05 0.22" numOctaves="3" seed="4" result="n"/><feColorMatrix in="n" type="matrix" values="0 0 0 0 0.941  0 0 0 0 0.784  0 0 0 0 0.659  1.3 0 0 0 -0.55" result="m"/><feComposite in="m" in2="SourceGraphic" operator="in"/></filter>
<filter id="tf1" x="0" y="0" width="100%" height="100%"><feTurbulence type="fractalNoise" baseFrequency="0.3 0.8" numOctaves="2" seed="6" result="n"/><feColorMatrix in="n" type="matrix" values="0 0 0 0 0.941  0 0 0 0 0.784  0 0 0 0 0.659  2.2 0 0 0 -1.15" result="m"/><feComposite in="m" in2="SourceGraphic" operator="in"/></filter>
<path d="M196.0,177.0 C194.0,162.2 194.0,103.6 196.0,88.9 C198.0,74.2 202.1,88.9 207.8,88.9 C213.5,88.9 222.1,88.8 230.0,89.0 C237.9,89.2 248.7,90.0 255.0,90.2 C261.3,90.4 264.8,91.0 268.0,90.4 C271.2,89.8 272.4,87.2 274.3,86.8 C276.2,86.4 279.0,86.5 279.7,88.0 C280.4,89.5 279.0,93.8 278.6,95.8 C278.2,97.8 276.1,98.5 277.5,100.0 C278.9,101.5 283.8,104.3 287.2,105.0 C290.6,105.7 294.3,104.5 297.9,104.0 C301.5,103.5 304.9,102.6 308.6,102.0 C312.3,101.4 318.1,93.0 320.0,100.5 C321.9,108.0 321.9,138.6 320.0,147.3 C318.1,156.0 312.3,151.2 308.6,152.6 C304.9,154.0 301.5,154.6 297.9,155.8 C294.3,157.1 289.7,158.7 287.2,160.1 C284.7,161.5 283.8,162.8 282.9,164.4 C282.0,166.0 282.9,169.6 281.8,169.8 C280.7,170.0 279.2,166.2 276.5,165.5 C273.8,164.8 268.6,165.7 265.7,165.5 C262.8,165.3 262.4,164.6 259.3,164.4 C256.2,164.2 250.0,163.8 246.8,164.4 C243.6,165.0 242.8,166.7 240.0,168.0 C237.2,169.3 233.0,170.8 230.0,172.0 C227.0,173.2 224.5,174.2 222.0,175.0 C219.5,175.8 217.4,176.1 215.0,176.5 C212.6,176.9 211.0,177.4 207.8,177.5 C204.6,177.6 198.0,191.8 196.0,177.0Z" fill="#fff" filter="url(#tx1)" opacity="0.3"/>
<path d="M196.0,177.0 C194.0,162.2 194.0,103.6 196.0,88.9 C198.0,74.2 202.1,88.9 207.8,88.9 C213.5,88.9 222.1,88.8 230.0,89.0 C237.9,89.2 248.7,90.0 255.0,90.2 C261.3,90.4 264.8,91.0 268.0,90.4 C271.2,89.8 272.4,87.2 274.3,86.8 C276.2,86.4 279.0,86.5 279.7,88.0 C280.4,89.5 279.0,93.8 278.6,95.8 C278.2,97.8 276.1,98.5 277.5,100.0 C278.9,101.5 283.8,104.3 287.2,105.0 C290.6,105.7 294.3,104.5 297.9,104.0 C301.5,103.5 304.9,102.6 308.6,102.0 C312.3,101.4 318.1,93.0 320.0,100.5 C321.9,108.0 321.9,138.6 320.0,147.3 C318.1,156.0 312.3,151.2 308.6,152.6 C304.9,154.0 301.5,154.6 297.9,155.8 C294.3,157.1 289.7,158.7 287.2,160.1 C284.7,161.5 283.8,162.8 282.9,164.4 C282.0,166.0 282.9,169.6 281.8,169.8 C280.7,170.0 279.2,166.2 276.5,165.5 C273.8,164.8 268.6,165.7 265.7,165.5 C262.8,165.3 262.4,164.6 259.3,164.4 C256.2,164.2 250.0,163.8 246.8,164.4 C243.6,165.0 242.8,166.7 240.0,168.0 C237.2,169.3 233.0,170.8 230.0,172.0 C227.0,173.2 224.5,174.2 222.0,175.0 C219.5,175.8 217.4,176.1 215.0,176.5 C212.6,176.9 211.0,177.4 207.8,177.5 C204.6,177.6 198.0,191.8 196.0,177.0Z" fill="#fff" filter="url(#tf1)" opacity="0.25"/>
<path d="M235.0,109.0 C237.8,104.9 244.2,104.3 249.0,103.5 C253.8,102.7 259.7,102.6 264.0,104.0 C268.3,105.4 272.7,108.3 275.0,112.0 C277.3,115.7 277.8,121.2 278.0,126.0 C278.2,130.8 278.0,137.2 276.0,141.0 C274.0,144.8 270.3,147.6 266.0,149.0 C261.7,150.4 254.7,150.5 250.0,149.5 C245.3,148.5 241.0,146.6 238.0,143.0 C235.0,139.4 232.5,133.7 232.0,128.0 C231.5,122.3 232.2,113.1 235.0,109.0Z" fill="url(#patch1)" filter="url(#blur1)"/>
<path d="M240.0,112.0 C242.5,109.2 247.0,107.7 251.0,107.0 C255.0,106.3 260.5,106.5 264.0,108.0 C267.5,109.5 270.3,112.3 272.0,116.0 C273.7,119.7 274.3,125.7 274.0,130.0 C273.7,134.3 272.7,139.3 270.0,142.0 C267.3,144.7 262.0,145.7 258.0,146.0 C254.0,146.3 249.2,145.7 246.0,144.0 C242.8,142.3 240.7,139.3 239.0,136.0 C237.3,132.7 235.8,128.0 236.0,124.0 C236.2,120.0 237.5,114.8 240.0,112.0Z" fill="#b09a62" filter="url(#tex2)" opacity="0.35"/>
<path d="M249.4,102.5 C254.3,102.0 261.5,103.0 266.0,104.5 C270.5,106.0 274.3,108.6 276.2,111.5 C278.1,114.4 276.9,118.2 277.5,122.0 C278.1,125.8 280.9,129.7 279.8,134.0 C278.7,138.3 274.5,145.2 270.8,148.0 C267.1,150.8 262.0,150.6 257.9,150.6 C253.8,150.6 249.4,149.5 246.0,148.0 C242.6,146.5 240.0,144.0 237.6,141.5 C235.2,139.0 232.7,136.2 231.5,133.0 C230.3,129.8 229.7,126.7 230.5,122.4 C231.3,118.1 233.3,110.5 236.5,107.2 C239.7,103.9 244.5,103.0 249.4,102.5Z" fill="none" stroke="#fff" stroke-width="1.8" stroke-dasharray="3.4,3"/>
</g>
<clipPath id="clip2"><rect x="330.7" y="72.0" width="108.5" height="124.6"/></clipPath>
<g clip-path="url(#clip2)">
<rect x="330.7" y="72.0" width="108.5" height="124.6" fill="#dfe4e2"/>
<rect x="330.7" y="180.8" width="108.5" height="15.799999999999983" fill="#8e9090"/>
<rect x="330.7" y="191.86" width="108.5" height="4.739999999999995" fill="#a0a2a2"/>
<line x1="332.06" y1="180.8" x2="332.06" y2="191.86" stroke="#353535" stroke-width="0.8"/>
<line x1="333.45" y1="181.8" x2="333.45" y2="191.07" stroke="#acaeae" stroke-width="0.8"/>
<line x1="334.84" y1="180.8" x2="334.84" y2="191.86" stroke="#353535" stroke-width="0.8"/>
<line x1="336.23" y1="181.8" x2="336.23" y2="191.07" stroke="#acaeae" stroke-width="0.8"/>
<line x1="337.62" y1="180.8" x2="337.62" y2="191.86" stroke="#353535" stroke-width="0.8"/>
<line x1="339.01" y1="181.8" x2="339.01" y2="191.07" stroke="#acaeae" stroke-width="0.8"/>
<line x1="340.40" y1="180.8" x2="340.40" y2="196.6" stroke="#353535" stroke-width="1.0"/>
<line x1="341.79" y1="181.8" x2="341.79" y2="191.07" stroke="#acaeae" stroke-width="0.8"/>
<line x1="343.18" y1="180.8" x2="343.18" y2="191.86" stroke="#353535" stroke-width="0.8"/>
<line x1="344.57" y1="181.8" x2="344.57" y2="191.07" stroke="#acaeae" stroke-width="0.8"/>
<line x1="345.96" y1="180.8" x2="345.96" y2="191.86" stroke="#353535" stroke-width="0.8"/>
<line x1="347.35" y1="181.8" x2="347.35" y2="191.07" stroke="#acaeae" stroke-width="0.8"/>
<line x1="348.74" y1="180.8" x2="348.74" y2="191.86" stroke="#353535" stroke-width="0.8"/>
<line x1="350.13" y1="181.8" x2="350.13" y2="191.07" stroke="#acaeae" stroke-width="0.8"/>
<line x1="351.52" y1="180.8" x2="351.52" y2="191.86" stroke="#353535" stroke-width="0.8"/>
<line x1="352.91" y1="181.8" x2="352.91" y2="191.07" stroke="#acaeae" stroke-width="0.8"/>
<line x1="354.30" y1="180.8" x2="354.30" y2="196.6" stroke="#353535" stroke-width="1.0"/>
<line x1="355.69" y1="181.8" x2="355.69" y2="191.07" stroke="#acaeae" stroke-width="0.8"/>
<line x1="357.08" y1="180.8" x2="357.08" y2="191.86" stroke="#353535" stroke-width="0.8"/>
<line x1="358.47" y1="181.8" x2="358.47" y2="191.07" stroke="#acaeae" stroke-width="0.8"/>
<line x1="359.86" y1="180.8" x2="359.86" y2="191.86" stroke="#353535" stroke-width="0.8"/>
<line x1="361.25" y1="181.8" x2="361.25" y2="191.07" stroke="#acaeae" stroke-width="0.8"/>
<line x1="362.64" y1="180.8" x2="362.64" y2="191.86" stroke="#353535" stroke-width="0.8"/>
<line x1="364.03" y1="181.8" x2="364.03" y2="191.07" stroke="#acaeae" stroke-width="0.8"/>
<line x1="365.42" y1="180.8" x2="365.42" y2="191.86" stroke="#353535" stroke-width="0.8"/>
<line x1="366.81" y1="181.8" x2="366.81" y2="191.07" stroke="#acaeae" stroke-width="0.8"/>
<line x1="368.20" y1="180.8" x2="368.20" y2="196.6" stroke="#353535" stroke-width="1.0"/>
<line x1="369.59" y1="181.8" x2="369.59" y2="191.07" stroke="#acaeae" stroke-width="0.8"/>
<line x1="370.98" y1="180.8" x2="370.98" y2="191.86" stroke="#353535" stroke-width="0.8"/>
<line x1="372.37" y1="181.8" x2="372.37" y2="191.07" stroke="#acaeae" stroke-width="0.8"/>
<line x1="373.76" y1="180.8" x2="373.76" y2="191.86" stroke="#353535" stroke-width="0.8"/>
<line x1="375.15" y1="181.8" x2="375.15" y2="191.07" stroke="#acaeae" stroke-width="0.8"/>
<line x1="376.54" y1="180.8" x2="376.54" y2="191.86" stroke="#353535" stroke-width="0.8"/>
<line x1="377.93" y1="181.8" x2="377.93" y2="191.07" stroke="#acaeae" stroke-width="0.8"/>
<line x1="379.32" y1="180.8" x2="379.32" y2="191.86" stroke="#353535" stroke-width="0.8"/>
<line x1="380.71" y1="181.8" x2="380.71" y2="191.07" stroke="#acaeae" stroke-width="0.8"/>
<line x1="382.10" y1="180.8" x2="382.10" y2="196.6" stroke="#353535" stroke-width="1.0"/>
<line x1="383.49" y1="181.8" x2="383.49" y2="191.07" stroke="#acaeae" stroke-width="0.8"/>
<line x1="384.88" y1="180.8" x2="384.88" y2="191.86" stroke="#353535" stroke-width="0.8"/>
<line x1="386.27" y1="181.8" x2="386.27" y2="191.07" stroke="#acaeae" stroke-width="0.8"/>
<line x1="387.66" y1="180.8" x2="387.66" y2="191.86" stroke="#353535" stroke-width="0.8"/>
<line x1="389.05" y1="181.8" x2="389.05" y2="191.07" stroke="#acaeae" stroke-width="0.8"/>
<line x1="390.44" y1="180.8" x2="390.44" y2="191.86" stroke="#353535" stroke-width="0.8"/>
<line x1="391.83" y1="181.8" x2="391.83" y2="191.07" stroke="#acaeae" stroke-width="0.8"/>
<line x1="393.22" y1="180.8" x2="393.22" y2="191.86" stroke="#353535" stroke-width="0.8"/>
<line x1="394.61" y1="181.8" x2="394.61" y2="191.07" stroke="#acaeae" stroke-width="0.8"/>
<line x1="396.00" y1="180.8" x2="396.00" y2="196.6" stroke="#353535" stroke-width="1.0"/>
<line x1="397.39" y1="181.8" x2="397.39" y2="191.07" stroke="#acaeae" stroke-width="0.8"/>
<line x1="398.78" y1="180.8" x2="398.78" y2="191.86" stroke="#353535" stroke-width="0.8"/>
<line x1="400.17" y1="181.8" x2="400.17" y2="191.07" stroke="#acaeae" stroke-width="0.8"/>
<line x1="401.56" y1="180.8" x2="401.56" y2="191.86" stroke="#353535" stroke-width="0.8"/>
<line x1="402.95" y1="181.8" x2="402.95" y2="191.07" stroke="#acaeae" stroke-width="0.8"/>
<line x1="404.34" y1="180.8" x2="404.34" y2="191.86" stroke="#353535" stroke-width="0.8"/>
<line x1="405.73" y1="181.8" x2="405.73" y2="191.07" stroke="#acaeae" stroke-width="0.8"/>
<line x1="407.12" y1="180.8" x2="407.12" y2="191.86" stroke="#353535" stroke-width="0.8"/>
<line x1="408.51" y1="181.8" x2="408.51" y2="191.07" stroke="#acaeae" stroke-width="0.8"/>
<line x1="409.90" y1="180.8" x2="409.90" y2="196.6" stroke="#353535" stroke-width="1.0"/>
<line x1="411.29" y1="181.8" x2="411.29" y2="191.07" stroke="#acaeae" stroke-width="0.8"/>
<line x1="412.68" y1="180.8" x2="412.68" y2="191.86" stroke="#353535" stroke-width="0.8"/>
<line x1="414.07" y1="181.8" x2="414.07" y2="191.07" stroke="#acaeae" stroke-width="0.8"/>
<line x1="415.46" y1="180.8" x2="415.46" y2="191.86" stroke="#353535" stroke-width="0.8"/>
<line x1="416.85" y1="181.8" x2="416.85" y2="191.07" stroke="#acaeae" stroke-width="0.8"/>
<line x1="418.24" y1="180.8" x2="418.24" y2="191.86" stroke="#353535" stroke-width="0.8"/>
<line x1="419.63" y1="181.8" x2="419.63" y2="191.07" stroke="#acaeae" stroke-width="0.8"/>
<line x1="421.02" y1="180.8" x2="421.02" y2="191.86" stroke="#353535" stroke-width="0.8"/>
<line x1="422.41" y1="181.8" x2="422.41" y2="191.07" stroke="#acaeae" stroke-width="0.8"/>
<line x1="423.80" y1="180.8" x2="423.80" y2="196.6" stroke="#353535" stroke-width="1.0"/>
<line x1="425.19" y1="181.8" x2="425.19" y2="191.07" stroke="#acaeae" stroke-width="0.8"/>
<line x1="426.58" y1="180.8" x2="426.58" y2="191.86" stroke="#353535" stroke-width="0.8"/>
<line x1="427.97" y1="181.8" x2="427.97" y2="191.07" stroke="#acaeae" stroke-width="0.8"/>
<line x1="429.36" y1="180.8" x2="429.36" y2="191.86" stroke="#353535" stroke-width="0.8"/>
<line x1="430.75" y1="181.8" x2="430.75" y2="191.07" stroke="#acaeae" stroke-width="0.8"/>
<line x1="432.14" y1="180.8" x2="432.14" y2="191.86" stroke="#353535" stroke-width="0.8"/>
<line x1="433.53" y1="181.8" x2="433.53" y2="191.07" stroke="#acaeae" stroke-width="0.8"/>
<line x1="434.92" y1="180.8" x2="434.92" y2="191.86" stroke="#353535" stroke-width="0.8"/>
<line x1="436.31" y1="181.8" x2="436.31" y2="191.07" stroke="#acaeae" stroke-width="0.8"/>
<line x1="437.70" y1="180.8" x2="437.70" y2="196.6" stroke="#353535" stroke-width="1.0"/>
<line x1="439.09" y1="181.8" x2="439.09" y2="191.07" stroke="#acaeae" stroke-width="0.8"/>
<path d="M357.5,70.0 C352.9,72.2 360.5,79.0 361.3,82.9 C362.1,86.8 361.4,90.2 362.3,93.6 C363.2,96.9 368.1,101.0 367.0,103.0 C365.9,105.0 358.8,105.2 355.9,105.4 C353.0,105.6 352.4,103.9 349.5,104.3 C346.6,104.7 341.8,107.0 338.7,107.6 C335.6,108.2 333.5,107.7 330.7,107.8 C327.9,107.9 323.4,95.0 322.0,108.0 C320.6,121.0 320.6,173.5 322.0,186.0 C323.4,198.5 329.0,183.7 330.7,183.0 C332.4,182.3 330.6,182.9 332.3,181.6 C334.0,180.3 337.3,176.6 340.9,175.2 C344.5,173.8 350.2,173.0 353.8,173.0 C357.4,173.0 359.5,174.1 362.3,175.2 C365.1,176.3 368.4,178.0 370.9,179.4 C373.4,180.8 375.2,183.0 377.4,183.7 C379.6,184.4 381.7,183.9 384.3,183.7 C386.9,183.5 390.0,183.4 392.9,182.7 C395.8,182.0 398.6,180.3 401.5,179.4 C404.4,178.5 407.1,177.8 410.0,177.3 C412.9,176.8 416.1,176.9 418.6,176.2 C421.1,175.5 423.5,175.0 425.1,173.0 C426.7,171.0 427.6,166.9 428.3,164.4 C429.0,161.9 428.9,160.5 429.4,158.0 C429.9,155.5 431.5,152.3 431.5,149.4 C431.5,146.5 430.8,143.3 429.4,140.8 C428.0,138.3 423.4,135.7 422.9,134.4 C422.3,133.2 424.9,134.7 426.1,133.3 C427.4,131.9 430.4,128.8 430.4,125.8 C430.4,122.8 427.9,118.0 426.1,115.1 C424.3,112.2 422.0,110.4 419.7,108.6 C417.4,106.8 414.9,106.4 412.2,104.3 C409.5,102.2 406.3,98.6 403.6,95.8 C400.9,93.0 398.1,90.1 396.1,87.2 C394.1,84.3 393.1,81.5 391.8,78.6 C390.6,75.7 394.3,71.4 388.6,70.0 C382.9,68.6 362.1,67.8 357.5,70.0Z" fill="#8c3e3e"/>
<clipPath id="tc2"><path d="M357.5,70.0 C352.9,72.2 360.5,79.0 361.3,82.9 C362.1,86.8 361.4,90.2 362.3,93.6 C363.2,96.9 368.1,101.0 367.0,103.0 C365.9,105.0 358.8,105.2 355.9,105.4 C353.0,105.6 352.4,103.9 349.5,104.3 C346.6,104.7 341.8,107.0 338.7,107.6 C335.6,108.2 333.5,107.7 330.7,107.8 C327.9,107.9 323.4,95.0 322.0,108.0 C320.6,121.0 320.6,173.5 322.0,186.0 C323.4,198.5 329.0,183.7 330.7,183.0 C332.4,182.3 330.6,182.9 332.3,181.6 C334.0,180.3 337.3,176.6 340.9,175.2 C344.5,173.8 350.2,173.0 353.8,173.0 C357.4,173.0 359.5,174.1 362.3,175.2 C365.1,176.3 368.4,178.0 370.9,179.4 C373.4,180.8 375.2,183.0 377.4,183.7 C379.6,184.4 381.7,183.9 384.3,183.7 C386.9,183.5 390.0,183.4 392.9,182.7 C395.8,182.0 398.6,180.3 401.5,179.4 C404.4,178.5 407.1,177.8 410.0,177.3 C412.9,176.8 416.1,176.9 418.6,176.2 C421.1,175.5 423.5,175.0 425.1,173.0 C426.7,171.0 427.6,166.9 428.3,164.4 C429.0,161.9 428.9,160.5 429.4,158.0 C429.9,155.5 431.5,152.3 431.5,149.4 C431.5,146.5 430.8,143.3 429.4,140.8 C428.0,138.3 423.4,135.7 422.9,134.4 C422.3,133.2 424.9,134.7 426.1,133.3 C427.4,131.9 430.4,128.8 430.4,125.8 C430.4,122.8 427.9,118.0 426.1,115.1 C424.3,112.2 422.0,110.4 419.7,108.6 C417.4,106.8 414.9,106.4 412.2,104.3 C409.5,102.2 406.3,98.6 403.6,95.8 C400.9,93.0 398.1,90.1 396.1,87.2 C394.1,84.3 393.1,81.5 391.8,78.6 C390.6,75.7 394.3,71.4 388.6,70.0 C382.9,68.6 362.1,67.8 357.5,70.0Z"/></clipPath><g clip-path="url(#tc2)" filter="url(#vblur)">
<ellipse cx="370" cy="85" rx="10" ry="14" fill="#a44c4c" opacity="0.6"/>
<ellipse cx="350" cy="125" rx="18" ry="14" fill="#9c4848" opacity="0.55"/>
<ellipse cx="410" cy="155" rx="18" ry="18" fill="#6e2626" opacity="0.55"/>
<ellipse cx="350" cy="170" rx="20" ry="8" fill="#742a2a" opacity="0.5"/>
<ellipse cx="415" cy="115" rx="12" ry="10" fill="#b06262" opacity="0.5"/>
<ellipse cx="385" cy="105" rx="12" ry="8" fill="#742c2c" opacity="0.5"/>
</g>
<path d="M357.5,70.0 C352.9,72.2 360.5,79.0 361.3,82.9 C362.1,86.8 361.4,90.2 362.3,93.6 C363.2,96.9 368.1,101.0 367.0,103.0 C365.9,105.0 358.8,105.2 355.9,105.4 C353.0,105.6 352.4,103.9 349.5,104.3 C346.6,104.7 341.8,107.0 338.7,107.6 C335.6,108.2 333.5,107.7 330.7,107.8 C327.9,107.9 323.4,95.0 322.0,108.0 C320.6,121.0 320.6,173.5 322.0,186.0 C323.4,198.5 329.0,183.7 330.7,183.0 C332.4,182.3 330.6,182.9 332.3,181.6 C334.0,180.3 337.3,176.6 340.9,175.2 C344.5,173.8 350.2,173.0 353.8,173.0 C357.4,173.0 359.5,174.1 362.3,175.2 C365.1,176.3 368.4,178.0 370.9,179.4 C373.4,180.8 375.2,183.0 377.4,183.7 C379.6,184.4 381.7,183.9 384.3,183.7 C386.9,183.5 390.0,183.4 392.9,182.7 C395.8,182.0 398.6,180.3 401.5,179.4 C404.4,178.5 407.1,177.8 410.0,177.3 C412.9,176.8 416.1,176.9 418.6,176.2 C421.1,175.5 423.5,175.0 425.1,173.0 C426.7,171.0 427.6,166.9 428.3,164.4 C429.0,161.9 428.9,160.5 429.4,158.0 C429.9,155.5 431.5,152.3 431.5,149.4 C431.5,146.5 430.8,143.3 429.4,140.8 C428.0,138.3 423.4,135.7 422.9,134.4 C422.3,133.2 424.9,134.7 426.1,133.3 C427.4,131.9 430.4,128.8 430.4,125.8 C430.4,122.8 427.9,118.0 426.1,115.1 C424.3,112.2 422.0,110.4 419.7,108.6 C417.4,106.8 414.9,106.4 412.2,104.3 C409.5,102.2 406.3,98.6 403.6,95.8 C400.9,93.0 398.1,90.1 396.1,87.2 C394.1,84.3 393.1,81.5 391.8,78.6 C390.6,75.7 394.3,71.4 388.6,70.0 C382.9,68.6 362.1,67.8 357.5,70.0Z" fill="#f0c0c0" filter="url(#texd)" opacity="0.5"/>
<filter id="tx2" x="0" y="0" width="100%" height="100%"><feTurbulence type="fractalNoise" baseFrequency="0.05 0.22" numOctaves="3" seed="5" result="n"/><feColorMatrix in="n" type="matrix" values="0 0 0 0 0.941  0 0 0 0 0.753  0 0 0 0 0.753  1.3 0 0 0 -0.55" result="m"/><feComposite in="m" in2="SourceGraphic" operator="in"/></filter>
<filter id="tf2" x="0" y="0" width="100%" height="100%"><feTurbulence type="fractalNoise" baseFrequency="0.3 0.8" numOctaves="2" seed="7" result="n"/><feColorMatrix in="n" type="matrix" values="0 0 0 0 0.941  0 0 0 0 0.753  0 0 0 0 0.753  2.2 0 0 0 -1.15" result="m"/><feComposite in="m" in2="SourceGraphic" operator="in"/></filter>
<path d="M357.5,70.0 C352.9,72.2 360.5,79.0 361.3,82.9 C362.1,86.8 361.4,90.2 362.3,93.6 C363.2,96.9 368.1,101.0 367.0,103.0 C365.9,105.0 358.8,105.2 355.9,105.4 C353.0,105.6 352.4,103.9 349.5,104.3 C346.6,104.7 341.8,107.0 338.7,107.6 C335.6,108.2 333.5,107.7 330.7,107.8 C327.9,107.9 323.4,95.0 322.0,108.0 C320.6,121.0 320.6,173.5 322.0,186.0 C323.4,198.5 329.0,183.7 330.7,183.0 C332.4,182.3 330.6,182.9 332.3,181.6 C334.0,180.3 337.3,176.6 340.9,175.2 C344.5,173.8 350.2,173.0 353.8,173.0 C357.4,173.0 359.5,174.1 362.3,175.2 C365.1,176.3 368.4,178.0 370.9,179.4 C373.4,180.8 375.2,183.0 377.4,183.7 C379.6,184.4 381.7,183.9 384.3,183.7 C386.9,183.5 390.0,183.4 392.9,182.7 C395.8,182.0 398.6,180.3 401.5,179.4 C404.4,178.5 407.1,177.8 410.0,177.3 C412.9,176.8 416.1,176.9 418.6,176.2 C421.1,175.5 423.5,175.0 425.1,173.0 C426.7,171.0 427.6,166.9 428.3,164.4 C429.0,161.9 428.9,160.5 429.4,158.0 C429.9,155.5 431.5,152.3 431.5,149.4 C431.5,146.5 430.8,143.3 429.4,140.8 C428.0,138.3 423.4,135.7 422.9,134.4 C422.3,133.2 424.9,134.7 426.1,133.3 C427.4,131.9 430.4,128.8 430.4,125.8 C430.4,122.8 427.9,118.0 426.1,115.1 C424.3,112.2 422.0,110.4 419.7,108.6 C417.4,106.8 414.9,106.4 412.2,104.3 C409.5,102.2 406.3,98.6 403.6,95.8 C400.9,93.0 398.1,90.1 396.1,87.2 C394.1,84.3 393.1,81.5 391.8,78.6 C390.6,75.7 394.3,71.4 388.6,70.0 C382.9,68.6 362.1,67.8 357.5,70.0Z" fill="#fff" filter="url(#tx2)" opacity="0.3"/>
<path d="M357.5,70.0 C352.9,72.2 360.5,79.0 361.3,82.9 C362.1,86.8 361.4,90.2 362.3,93.6 C363.2,96.9 368.1,101.0 367.0,103.0 C365.9,105.0 358.8,105.2 355.9,105.4 C353.0,105.6 352.4,103.9 349.5,104.3 C346.6,104.7 341.8,107.0 338.7,107.6 C335.6,108.2 333.5,107.7 330.7,107.8 C327.9,107.9 323.4,95.0 322.0,108.0 C320.6,121.0 320.6,173.5 322.0,186.0 C323.4,198.5 329.0,183.7 330.7,183.0 C332.4,182.3 330.6,182.9 332.3,181.6 C334.0,180.3 337.3,176.6 340.9,175.2 C344.5,173.8 350.2,173.0 353.8,173.0 C357.4,173.0 359.5,174.1 362.3,175.2 C365.1,176.3 368.4,178.0 370.9,179.4 C373.4,180.8 375.2,183.0 377.4,183.7 C379.6,184.4 381.7,183.9 384.3,183.7 C386.9,183.5 390.0,183.4 392.9,182.7 C395.8,182.0 398.6,180.3 401.5,179.4 C404.4,178.5 407.1,177.8 410.0,177.3 C412.9,176.8 416.1,176.9 418.6,176.2 C421.1,175.5 423.5,175.0 425.1,173.0 C426.7,171.0 427.6,166.9 428.3,164.4 C429.0,161.9 428.9,160.5 429.4,158.0 C429.9,155.5 431.5,152.3 431.5,149.4 C431.5,146.5 430.8,143.3 429.4,140.8 C428.0,138.3 423.4,135.7 422.9,134.4 C422.3,133.2 424.9,134.7 426.1,133.3 C427.4,131.9 430.4,128.8 430.4,125.8 C430.4,122.8 427.9,118.0 426.1,115.1 C424.3,112.2 422.0,110.4 419.7,108.6 C417.4,106.8 414.9,106.4 412.2,104.3 C409.5,102.2 406.3,98.6 403.6,95.8 C400.9,93.0 398.1,90.1 396.1,87.2 C394.1,84.3 393.1,81.5 391.8,78.6 C390.6,75.7 394.3,71.4 388.6,70.0 C382.9,68.6 362.1,67.8 357.5,70.0Z" fill="#fff" filter="url(#tf2)" opacity="0.25"/>
<path d="M372.4,120.6 L401.3,135.1 L384,151.3 L363.2,130.5 Z" fill="#6a3a2e" opacity="0.3"/>
<path d="M372.4,120.6 Q368,122 366,126 L363.2,130.5 Q366,135 370,138 L384,151.3 L401.3,135.1 Q399,131 395,131 Z" fill="none" stroke="#fff" stroke-width="1.7" stroke-dasharray="3.2,2.6" stroke-linejoin="round"/>
</g>
<clipPath id="clip3"><rect x="452.9" y="73.0" width="108.89999999999998" height="123.6"/></clipPath>
<g clip-path="url(#clip3)">
<rect x="452.9" y="73.0" width="108.89999999999998" height="123.6" fill="#dce2da"/>
<rect x="452.9" y="179.1" width="108.89999999999998" height="17.5" fill="#8e9090"/>
<rect x="452.9" y="191.35" width="108.89999999999998" height="5.25" fill="#a0a2a2"/>
<line x1="452.12" y1="179.1" x2="452.12" y2="191.35" stroke="#353535" stroke-width="0.8"/>
<line x1="453.74" y1="180.1" x2="453.74" y2="190.475" stroke="#acaeae" stroke-width="0.8"/>
<line x1="455.36" y1="179.1" x2="455.36" y2="191.35" stroke="#353535" stroke-width="0.8"/>
<line x1="456.98" y1="180.1" x2="456.98" y2="190.475" stroke="#acaeae" stroke-width="0.8"/>
<line x1="458.60" y1="179.1" x2="458.60" y2="196.6" stroke="#353535" stroke-width="1.0"/>
<line x1="460.22" y1="180.1" x2="460.22" y2="190.475" stroke="#acaeae" stroke-width="0.8"/>
<line x1="461.84" y1="179.1" x2="461.84" y2="191.35" stroke="#353535" stroke-width="0.8"/>
<line x1="463.46" y1="180.1" x2="463.46" y2="190.475" stroke="#acaeae" stroke-width="0.8"/>
<line x1="465.08" y1="179.1" x2="465.08" y2="191.35" stroke="#353535" stroke-width="0.8"/>
<line x1="466.70" y1="180.1" x2="466.70" y2="190.475" stroke="#acaeae" stroke-width="0.8"/>
<line x1="468.32" y1="179.1" x2="468.32" y2="191.35" stroke="#353535" stroke-width="0.8"/>
<line x1="469.94" y1="180.1" x2="469.94" y2="190.475" stroke="#acaeae" stroke-width="0.8"/>
<line x1="471.56" y1="179.1" x2="471.56" y2="191.35" stroke="#353535" stroke-width="0.8"/>
<line x1="473.18" y1="180.1" x2="473.18" y2="190.475" stroke="#acaeae" stroke-width="0.8"/>
<line x1="474.80" y1="179.1" x2="474.80" y2="196.6" stroke="#353535" stroke-width="1.0"/>
<line x1="476.42" y1="180.1" x2="476.42" y2="190.475" stroke="#acaeae" stroke-width="0.8"/>
<line x1="478.04" y1="179.1" x2="478.04" y2="191.35" stroke="#353535" stroke-width="0.8"/>
<line x1="479.66" y1="180.1" x2="479.66" y2="190.475" stroke="#acaeae" stroke-width="0.8"/>
<line x1="481.28" y1="179.1" x2="481.28" y2="191.35" stroke="#353535" stroke-width="0.8"/>
<line x1="482.90" y1="180.1" x2="482.90" y2="190.475" stroke="#acaeae" stroke-width="0.8"/>
<line x1="484.52" y1="179.1" x2="484.52" y2="191.35" stroke="#353535" stroke-width="0.8"/>
<line x1="486.14" y1="180.1" x2="486.14" y2="190.475" stroke="#acaeae" stroke-width="0.8"/>
<line x1="487.76" y1="179.1" x2="487.76" y2="191.35" stroke="#353535" stroke-width="0.8"/>
<line x1="489.38" y1="180.1" x2="489.38" y2="190.475" stroke="#acaeae" stroke-width="0.8"/>
<line x1="491.00" y1="179.1" x2="491.00" y2="196.6" stroke="#353535" stroke-width="1.0"/>
<line x1="492.62" y1="180.1" x2="492.62" y2="190.475" stroke="#acaeae" stroke-width="0.8"/>
<line x1="494.24" y1="179.1" x2="494.24" y2="191.35" stroke="#353535" stroke-width="0.8"/>
<line x1="495.86" y1="180.1" x2="495.86" y2="190.475" stroke="#acaeae" stroke-width="0.8"/>
<line x1="497.48" y1="179.1" x2="497.48" y2="191.35" stroke="#353535" stroke-width="0.8"/>
<line x1="499.10" y1="180.1" x2="499.10" y2="190.475" stroke="#acaeae" stroke-width="0.8"/>
<line x1="500.72" y1="179.1" x2="500.72" y2="191.35" stroke="#353535" stroke-width="0.8"/>
<line x1="502.34" y1="180.1" x2="502.34" y2="190.475" stroke="#acaeae" stroke-width="0.8"/>
<line x1="503.96" y1="179.1" x2="503.96" y2="191.35" stroke="#353535" stroke-width="0.8"/>
<line x1="505.58" y1="180.1" x2="505.58" y2="190.475" stroke="#acaeae" stroke-width="0.8"/>
<line x1="507.20" y1="179.1" x2="507.20" y2="196.6" stroke="#353535" stroke-width="1.0"/>
<line x1="508.82" y1="180.1" x2="508.82" y2="190.475" stroke="#acaeae" stroke-width="0.8"/>
<line x1="510.44" y1="179.1" x2="510.44" y2="191.35" stroke="#353535" stroke-width="0.8"/>
<line x1="512.06" y1="180.1" x2="512.06" y2="190.475" stroke="#acaeae" stroke-width="0.8"/>
<line x1="513.68" y1="179.1" x2="513.68" y2="191.35" stroke="#353535" stroke-width="0.8"/>
<line x1="515.30" y1="180.1" x2="515.30" y2="190.475" stroke="#acaeae" stroke-width="0.8"/>
<line x1="516.92" y1="179.1" x2="516.92" y2="191.35" stroke="#353535" stroke-width="0.8"/>
<line x1="518.54" y1="180.1" x2="518.54" y2="190.475" stroke="#acaeae" stroke-width="0.8"/>
<line x1="520.16" y1="179.1" x2="520.16" y2="191.35" stroke="#353535" stroke-width="0.8"/>
<line x1="521.78" y1="180.1" x2="521.78" y2="190.475" stroke="#acaeae" stroke-width="0.8"/>
<line x1="523.40" y1="179.1" x2="523.40" y2="196.6" stroke="#353535" stroke-width="1.0"/>
<line x1="525.02" y1="180.1" x2="525.02" y2="190.475" stroke="#acaeae" stroke-width="0.8"/>
<line x1="526.64" y1="179.1" x2="526.64" y2="191.35" stroke="#353535" stroke-width="0.8"/>
<line x1="528.26" y1="180.1" x2="528.26" y2="190.475" stroke="#acaeae" stroke-width="0.8"/>
<line x1="529.88" y1="179.1" x2="529.88" y2="191.35" stroke="#353535" stroke-width="0.8"/>
<line x1="531.50" y1="180.1" x2="531.50" y2="190.475" stroke="#acaeae" stroke-width="0.8"/>
<line x1="533.12" y1="179.1" x2="533.12" y2="191.35" stroke="#353535" stroke-width="0.8"/>
<line x1="534.74" y1="180.1" x2="534.74" y2="190.475" stroke="#acaeae" stroke-width="0.8"/>
<line x1="536.36" y1="179.1" x2="536.36" y2="191.35" stroke="#353535" stroke-width="0.8"/>
<line x1="537.98" y1="180.1" x2="537.98" y2="190.475" stroke="#acaeae" stroke-width="0.8"/>
<line x1="539.60" y1="179.1" x2="539.60" y2="196.6" stroke="#353535" stroke-width="1.0"/>
<line x1="541.22" y1="180.1" x2="541.22" y2="190.475" stroke="#acaeae" stroke-width="0.8"/>
<line x1="542.84" y1="179.1" x2="542.84" y2="191.35" stroke="#353535" stroke-width="0.8"/>
<line x1="544.46" y1="180.1" x2="544.46" y2="190.475" stroke="#acaeae" stroke-width="0.8"/>
<line x1="546.08" y1="179.1" x2="546.08" y2="191.35" stroke="#353535" stroke-width="0.8"/>
<line x1="547.70" y1="180.1" x2="547.70" y2="190.475" stroke="#acaeae" stroke-width="0.8"/>
<line x1="549.32" y1="179.1" x2="549.32" y2="191.35" stroke="#353535" stroke-width="0.8"/>
<line x1="550.94" y1="180.1" x2="550.94" y2="190.475" stroke="#acaeae" stroke-width="0.8"/>
<line x1="552.56" y1="179.1" x2="552.56" y2="191.35" stroke="#353535" stroke-width="0.8"/>
<line x1="554.18" y1="180.1" x2="554.18" y2="190.475" stroke="#acaeae" stroke-width="0.8"/>
<line x1="555.80" y1="179.1" x2="555.80" y2="196.6" stroke="#353535" stroke-width="1.0"/>
<line x1="557.42" y1="180.1" x2="557.42" y2="190.475" stroke="#acaeae" stroke-width="0.8"/>
<line x1="559.04" y1="179.1" x2="559.04" y2="191.35" stroke="#353535" stroke-width="0.8"/>
<line x1="560.66" y1="180.1" x2="560.66" y2="190.475" stroke="#acaeae" stroke-width="0.8"/>
<path d="M458.2,108.1 C459.4,105.7 461.0,104.0 462.7,102.7 C464.4,101.4 465.7,100.6 468.1,100.0 C470.5,99.4 473.6,98.9 477.2,99.1 C480.8,99.2 486.3,100.0 489.9,100.9 C493.5,101.8 496.6,102.7 499.0,104.5 C501.4,106.3 502.6,110.0 504.4,111.8 C506.2,113.6 508.4,114.0 510.0,115.4 C511.6,116.8 511.0,118.6 514.3,120.0 C517.6,121.4 523.8,122.5 530.0,124.0 C536.2,125.5 547.0,127.3 551.3,129.3 C555.6,131.3 554.9,132.9 556.0,136.0 C557.1,139.1 557.7,143.8 558.2,147.8 C558.7,151.8 558.8,155.4 559.0,160.0 C559.2,164.6 562.6,172.4 559.4,175.5 C556.2,178.6 548.2,178.0 540.0,178.5 C531.8,179.0 522.0,178.7 510.0,178.5 C498.0,178.3 477.0,177.6 468.1,177.1 C459.2,176.6 458.7,176.8 456.4,175.3 C454.1,173.8 454.7,170.7 454.5,168.0 C454.3,165.3 454.9,162.0 455.4,159.0 C455.9,156.0 457.3,152.9 457.3,149.9 C457.3,146.9 455.5,143.5 455.4,140.8 C455.2,138.1 456.7,136.0 456.4,133.6 C456.1,131.2 453.8,129.0 453.6,126.3 C453.4,123.6 454.6,120.2 455.4,117.2 C456.2,114.2 457.0,110.5 458.2,108.1Z" fill="#8a4d40"/>
<clipPath id="tc3"><path d="M458.2,108.1 C459.4,105.7 461.0,104.0 462.7,102.7 C464.4,101.4 465.7,100.6 468.1,100.0 C470.5,99.4 473.6,98.9 477.2,99.1 C480.8,99.2 486.3,100.0 489.9,100.9 C493.5,101.8 496.6,102.7 499.0,104.5 C501.4,106.3 502.6,110.0 504.4,111.8 C506.2,113.6 508.4,114.0 510.0,115.4 C511.6,116.8 511.0,118.6 514.3,120.0 C517.6,121.4 523.8,122.5 530.0,124.0 C536.2,125.5 547.0,127.3 551.3,129.3 C555.6,131.3 554.9,132.9 556.0,136.0 C557.1,139.1 557.7,143.8 558.2,147.8 C558.7,151.8 558.8,155.4 559.0,160.0 C559.2,164.6 562.6,172.4 559.4,175.5 C556.2,178.6 548.2,178.0 540.0,178.5 C531.8,179.0 522.0,178.7 510.0,178.5 C498.0,178.3 477.0,177.6 468.1,177.1 C459.2,176.6 458.7,176.8 456.4,175.3 C454.1,173.8 454.7,170.7 454.5,168.0 C454.3,165.3 454.9,162.0 455.4,159.0 C455.9,156.0 457.3,152.9 457.3,149.9 C457.3,146.9 455.5,143.5 455.4,140.8 C455.2,138.1 456.7,136.0 456.4,133.6 C456.1,131.2 453.8,129.0 453.6,126.3 C453.4,123.6 454.6,120.2 455.4,117.2 C456.2,114.2 457.0,110.5 458.2,108.1Z"/></clipPath><g clip-path="url(#tc3)" filter="url(#vblur)">
<ellipse cx="478" cy="108" rx="22" ry="8" fill="#a06050" opacity="0.6"/>
<ellipse cx="480" cy="130" rx="25" ry="5" fill="#9a5a4a" opacity="0.5"/>
<ellipse cx="500" cy="170" rx="40" ry="6" fill="#94564a" opacity="0.55"/>
<ellipse cx="535" cy="140" rx="18" ry="14" fill="#8a4a3c" opacity="0.5"/>
<ellipse cx="470" cy="150" rx="14" ry="10" fill="#6c3024" opacity="0.45"/>
</g>
<path d="M458.2,108.1 C459.4,105.7 461.0,104.0 462.7,102.7 C464.4,101.4 465.7,100.6 468.1,100.0 C470.5,99.4 473.6,98.9 477.2,99.1 C480.8,99.2 486.3,100.0 489.9,100.9 C493.5,101.8 496.6,102.7 499.0,104.5 C501.4,106.3 502.6,110.0 504.4,111.8 C506.2,113.6 508.4,114.0 510.0,115.4 C511.6,116.8 511.0,118.6 514.3,120.0 C517.6,121.4 523.8,122.5 530.0,124.0 C536.2,125.5 547.0,127.3 551.3,129.3 C555.6,131.3 554.9,132.9 556.0,136.0 C557.1,139.1 557.7,143.8 558.2,147.8 C558.7,151.8 558.8,155.4 559.0,160.0 C559.2,164.6 562.6,172.4 559.4,175.5 C556.2,178.6 548.2,178.0 540.0,178.5 C531.8,179.0 522.0,178.7 510.0,178.5 C498.0,178.3 477.0,177.6 468.1,177.1 C459.2,176.6 458.7,176.8 456.4,175.3 C454.1,173.8 454.7,170.7 454.5,168.0 C454.3,165.3 454.9,162.0 455.4,159.0 C455.9,156.0 457.3,152.9 457.3,149.9 C457.3,146.9 455.5,143.5 455.4,140.8 C455.2,138.1 456.7,136.0 456.4,133.6 C456.1,131.2 453.8,129.0 453.6,126.3 C453.4,123.6 454.6,120.2 455.4,117.2 C456.2,114.2 457.0,110.5 458.2,108.1Z" fill="#f0c8b8" filter="url(#texd)" opacity="0.5"/>
<filter id="tx3" x="0" y="0" width="100%" height="100%"><feTurbulence type="fractalNoise" baseFrequency="0.05 0.22" numOctaves="3" seed="6" result="n"/><feColorMatrix in="n" type="matrix" values="0 0 0 0 0.941  0 0 0 0 0.784  0 0 0 0 0.722  1.3 0 0 0 -0.55" result="m"/><feComposite in="m" in2="SourceGraphic" operator="in"/></filter>
<filter id="tf3" x="0" y="0" width="100%" height="100%"><feTurbulence type="fractalNoise" baseFrequency="0.3 0.8" numOctaves="2" seed="8" result="n"/><feColorMatrix in="n" type="matrix" values="0 0 0 0 0.941  0 0 0 0 0.784  0 0 0 0 0.722  2.2 0 0 0 -1.15" result="m"/><feComposite in="m" in2="SourceGraphic" operator="in"/></filter>
<path d="M458.2,108.1 C459.4,105.7 461.0,104.0 462.7,102.7 C464.4,101.4 465.7,100.6 468.1,100.0 C470.5,99.4 473.6,98.9 477.2,99.1 C480.8,99.2 486.3,100.0 489.9,100.9 C493.5,101.8 496.6,102.7 499.0,104.5 C501.4,106.3 502.6,110.0 504.4,111.8 C506.2,113.6 508.4,114.0 510.0,115.4 C511.6,116.8 511.0,118.6 514.3,120.0 C517.6,121.4 523.8,122.5 530.0,124.0 C536.2,125.5 547.0,127.3 551.3,129.3 C555.6,131.3 554.9,132.9 556.0,136.0 C557.1,139.1 557.7,143.8 558.2,147.8 C558.7,151.8 558.8,155.4 559.0,160.0 C559.2,164.6 562.6,172.4 559.4,175.5 C556.2,178.6 548.2,178.0 540.0,178.5 C531.8,179.0 522.0,178.7 510.0,178.5 C498.0,178.3 477.0,177.6 468.1,177.1 C459.2,176.6 458.7,176.8 456.4,175.3 C454.1,173.8 454.7,170.7 454.5,168.0 C454.3,165.3 454.9,162.0 455.4,159.0 C455.9,156.0 457.3,152.9 457.3,149.9 C457.3,146.9 455.5,143.5 455.4,140.8 C455.2,138.1 456.7,136.0 456.4,133.6 C456.1,131.2 453.8,129.0 453.6,126.3 C453.4,123.6 454.6,120.2 455.4,117.2 C456.2,114.2 457.0,110.5 458.2,108.1Z" fill="#fff" filter="url(#tx3)" opacity="0.3"/>
<path d="M458.2,108.1 C459.4,105.7 461.0,104.0 462.7,102.7 C464.4,101.4 465.7,100.6 468.1,100.0 C470.5,99.4 473.6,98.9 477.2,99.1 C480.8,99.2 486.3,100.0 489.9,100.9 C493.5,101.8 496.6,102.7 499.0,104.5 C501.4,106.3 502.6,110.0 504.4,111.8 C506.2,113.6 508.4,114.0 510.0,115.4 C511.6,116.8 511.0,118.6 514.3,120.0 C517.6,121.4 523.8,122.5 530.0,124.0 C536.2,125.5 547.0,127.3 551.3,129.3 C555.6,131.3 554.9,132.9 556.0,136.0 C557.1,139.1 557.7,143.8 558.2,147.8 C558.7,151.8 558.8,155.4 559.0,160.0 C559.2,164.6 562.6,172.4 559.4,175.5 C556.2,178.6 548.2,178.0 540.0,178.5 C531.8,179.0 522.0,178.7 510.0,178.5 C498.0,178.3 477.0,177.6 468.1,177.1 C459.2,176.6 458.7,176.8 456.4,175.3 C454.1,173.8 454.7,170.7 454.5,168.0 C454.3,165.3 454.9,162.0 455.4,159.0 C455.9,156.0 457.3,152.9 457.3,149.9 C457.3,146.9 455.5,143.5 455.4,140.8 C455.2,138.1 456.7,136.0 456.4,133.6 C456.1,131.2 453.8,129.0 453.6,126.3 C453.4,123.6 454.6,120.2 455.4,117.2 C456.2,114.2 457.0,110.5 458.2,108.1Z" fill="#fff" filter="url(#tf3)" opacity="0.25"/>
<path d="M503.8,132.1 C506.0,132.3 510.1,134.6 510.1,135.8 C510.2,137.0 505.6,137.9 504.1,139.5 C502.6,141.1 501.2,143.3 501.2,145.4 C501.2,147.5 503.2,149.9 504.1,152.1 C505.0,154.3 507.0,156.8 506.7,158.8 C506.4,160.8 504.3,163.1 502.3,164.3 C500.3,165.5 496.7,165.7 494.8,165.8 C492.9,165.9 492.1,165.8 490.8,165.1 C489.5,164.4 485.9,162.3 487.0,161.7 C488.1,161.1 495.5,162.6 497.4,161.4 C499.3,160.2 498.7,156.5 498.2,154.3 C497.7,152.1 495.3,150.2 494.5,148.0 C493.7,145.8 493.0,143.3 493.4,141.0 C493.8,138.7 495.4,135.8 497.1,134.3 C498.8,132.8 501.6,131.8 503.8,132.1Z" fill="none" stroke="#fff" stroke-width="1.8" stroke-dasharray="3,3.2"/>
</g>
<clipPath id="clip4"><rect x="575.0" y="73.0" width="110.0" height="123.6"/></clipPath>
<g clip-path="url(#clip4)">
<rect x="575.0" y="73.0" width="110.0" height="123.6" fill="#e3e6e2"/>
<rect x="575.0" y="181.3" width="110.0" height="15.299999999999983" fill="#9094a0"/>
<rect x="575.0" y="192.01" width="110.0" height="4.5899999999999945" fill="#a0a2a2"/>
<line x1="576.90" y1="181.3" x2="576.90" y2="192.01" stroke="#353535" stroke-width="0.8"/>
<line x1="578.55" y1="182.3" x2="578.55" y2="191.245" stroke="#acaeae" stroke-width="0.8"/>
<line x1="580.20" y1="181.3" x2="580.20" y2="192.01" stroke="#353535" stroke-width="0.8"/>
<line x1="581.85" y1="182.3" x2="581.85" y2="191.245" stroke="#acaeae" stroke-width="0.8"/>
<line x1="583.50" y1="181.3" x2="583.50" y2="196.6" stroke="#353535" stroke-width="1.0"/>
<line x1="585.15" y1="182.3" x2="585.15" y2="191.245" stroke="#acaeae" stroke-width="0.8"/>
<line x1="586.80" y1="181.3" x2="586.80" y2="192.01" stroke="#353535" stroke-width="0.8"/>
<line x1="588.45" y1="182.3" x2="588.45" y2="191.245" stroke="#acaeae" stroke-width="0.8"/>
<line x1="590.10" y1="181.3" x2="590.10" y2="192.01" stroke="#353535" stroke-width="0.8"/>
<line x1="591.75" y1="182.3" x2="591.75" y2="191.245" stroke="#acaeae" stroke-width="0.8"/>
<line x1="593.40" y1="181.3" x2="593.40" y2="192.01" stroke="#353535" stroke-width="0.8"/>
<line x1="595.05" y1="182.3" x2="595.05" y2="191.245" stroke="#acaeae" stroke-width="0.8"/>
<line x1="596.70" y1="181.3" x2="596.70" y2="192.01" stroke="#353535" stroke-width="0.8"/>
<line x1="598.35" y1="182.3" x2="598.35" y2="191.245" stroke="#acaeae" stroke-width="0.8"/>
<line x1="600.00" y1="181.3" x2="600.00" y2="196.6" stroke="#353535" stroke-width="1.0"/>
<line x1="601.65" y1="182.3" x2="601.65" y2="191.245" stroke="#acaeae" stroke-width="0.8"/>
<line x1="603.30" y1="181.3" x2="603.30" y2="192.01" stroke="#353535" stroke-width="0.8"/>
<line x1="604.95" y1="182.3" x2="604.95" y2="191.245" stroke="#acaeae" stroke-width="0.8"/>
<line x1="606.60" y1="181.3" x2="606.60" y2="192.01" stroke="#353535" stroke-width="0.8"/>
<line x1="608.25" y1="182.3" x2="608.25" y2="191.245" stroke="#acaeae" stroke-width="0.8"/>
<line x1="609.90" y1="181.3" x2="609.90" y2="192.01" stroke="#353535" stroke-width="0.8"/>
<line x1="611.55" y1="182.3" x2="611.55" y2="191.245" stroke="#acaeae" stroke-width="0.8"/>
<line x1="613.20" y1="181.3" x2="613.20" y2="192.01" stroke="#353535" stroke-width="0.8"/>
<line x1="614.85" y1="182.3" x2="614.85" y2="191.245" stroke="#acaeae" stroke-width="0.8"/>
<line x1="616.50" y1="181.3" x2="616.50" y2="196.6" stroke="#353535" stroke-width="1.0"/>
<line x1="618.15" y1="182.3" x2="618.15" y2="191.245" stroke="#acaeae" stroke-width="0.8"/>
<line x1="619.80" y1="181.3" x2="619.80" y2="192.01" stroke="#353535" stroke-width="0.8"/>
<line x1="621.45" y1="182.3" x2="621.45" y2="191.245" stroke="#acaeae" stroke-width="0.8"/>
<line x1="623.10" y1="181.3" x2="623.10" y2="192.01" stroke="#353535" stroke-width="0.8"/>
<line x1="624.75" y1="182.3" x2="624.75" y2="191.245" stroke="#acaeae" stroke-width="0.8"/>
<line x1="626.40" y1="181.3" x2="626.40" y2="192.01" stroke="#353535" stroke-width="0.8"/>
<line x1="628.05" y1="182.3" x2="628.05" y2="191.245" stroke="#acaeae" stroke-width="0.8"/>
<line x1="629.70" y1="181.3" x2="629.70" y2="192.01" stroke="#353535" stroke-width="0.8"/>
<line x1="631.35" y1="182.3" x2="631.35" y2="191.245" stroke="#acaeae" stroke-width="0.8"/>
<line x1="633.00" y1="181.3" x2="633.00" y2="196.6" stroke="#353535" stroke-width="1.0"/>
<line x1="634.65" y1="182.3" x2="634.65" y2="191.245" stroke="#acaeae" stroke-width="0.8"/>
<line x1="636.30" y1="181.3" x2="636.30" y2="192.01" stroke="#353535" stroke-width="0.8"/>
<line x1="637.95" y1="182.3" x2="637.95" y2="191.245" stroke="#acaeae" stroke-width="0.8"/>
<line x1="639.60" y1="181.3" x2="639.60" y2="192.01" stroke="#353535" stroke-width="0.8"/>
<line x1="641.25" y1="182.3" x2="641.25" y2="191.245" stroke="#acaeae" stroke-width="0.8"/>
<line x1="642.90" y1="181.3" x2="642.90" y2="192.01" stroke="#353535" stroke-width="0.8"/>
<line x1="644.55" y1="182.3" x2="644.55" y2="191.245" stroke="#acaeae" stroke-width="0.8"/>
<line x1="646.20" y1="181.3" x2="646.20" y2="192.01" stroke="#353535" stroke-width="0.8"/>
<line x1="647.85" y1="182.3" x2="647.85" y2="191.245" stroke="#acaeae" stroke-width="0.8"/>
<line x1="649.50" y1="181.3" x2="649.50" y2="196.6" stroke="#353535" stroke-width="1.0"/>
<line x1="651.15" y1="182.3" x2="651.15" y2="191.245" stroke="#acaeae" stroke-width="0.8"/>
<line x1="652.80" y1="181.3" x2="652.80" y2="192.01" stroke="#353535" stroke-width="0.8"/>
<line x1="654.45" y1="182.3" x2="654.45" y2="191.245" stroke="#acaeae" stroke-width="0.8"/>
<line x1="656.10" y1="181.3" x2="656.10" y2="192.01" stroke="#353535" stroke-width="0.8"/>
<line x1="657.75" y1="182.3" x2="657.75" y2="191.245" stroke="#acaeae" stroke-width="0.8"/>
<line x1="659.40" y1="181.3" x2="659.40" y2="192.01" stroke="#353535" stroke-width="0.8"/>
<line x1="661.05" y1="182.3" x2="661.05" y2="191.245" stroke="#acaeae" stroke-width="0.8"/>
<line x1="662.70" y1="181.3" x2="662.70" y2="192.01" stroke="#353535" stroke-width="0.8"/>
<line x1="664.35" y1="182.3" x2="664.35" y2="191.245" stroke="#acaeae" stroke-width="0.8"/>
<line x1="666.00" y1="181.3" x2="666.00" y2="196.6" stroke="#353535" stroke-width="1.0"/>
<line x1="667.65" y1="182.3" x2="667.65" y2="191.245" stroke="#acaeae" stroke-width="0.8"/>
<line x1="669.30" y1="181.3" x2="669.30" y2="192.01" stroke="#353535" stroke-width="0.8"/>
<line x1="670.95" y1="182.3" x2="670.95" y2="191.245" stroke="#acaeae" stroke-width="0.8"/>
<line x1="672.60" y1="181.3" x2="672.60" y2="192.01" stroke="#353535" stroke-width="0.8"/>
<line x1="674.25" y1="182.3" x2="674.25" y2="191.245" stroke="#acaeae" stroke-width="0.8"/>
<line x1="675.90" y1="181.3" x2="675.90" y2="192.01" stroke="#353535" stroke-width="0.8"/>
<line x1="677.55" y1="182.3" x2="677.55" y2="191.245" stroke="#acaeae" stroke-width="0.8"/>
<line x1="679.20" y1="181.3" x2="679.20" y2="192.01" stroke="#353535" stroke-width="0.8"/>
<line x1="680.85" y1="182.3" x2="680.85" y2="191.245" stroke="#acaeae" stroke-width="0.8"/>
<line x1="682.50" y1="181.3" x2="682.50" y2="196.6" stroke="#353535" stroke-width="1.0"/>
<line x1="684.15" y1="182.3" x2="684.15" y2="191.245" stroke="#acaeae" stroke-width="0.8"/>
<path d="M584.4,86.3 C585.1,85.6 585.5,88.7 587.5,89.4 C589.5,90.1 593.5,89.6 596.7,90.5 C600.0,91.4 603.2,93.1 607.0,94.6 C610.8,96.1 616.7,98.3 619.4,99.7 C622.1,101.1 620.6,102.6 623.1,102.7 C625.6,102.8 631.5,102.1 634.6,100.4 C637.7,98.7 640.1,94.4 641.6,92.3 C643.1,90.2 642.0,88.7 643.9,87.7 C645.8,86.8 650.2,86.6 653.1,86.6 C656.0,86.6 660.2,86.9 661.2,87.7 C662.2,88.5 658.7,88.5 658.9,91.2 C659.1,93.9 662.0,100.2 662.4,103.9 C662.8,107.6 662.0,110.0 661.2,113.1 C660.4,116.2 656.9,120.9 657.7,122.4 C658.5,124.0 663.3,121.8 665.8,122.4 C668.3,123.0 671.7,123.9 672.7,125.8 C673.7,127.7 672.6,131.0 671.6,133.9 C670.6,136.8 667.0,140.0 667.0,143.1 C667.0,146.2 669.7,150.1 671.6,152.4 C673.5,154.7 676.8,154.7 678.5,157.0 C680.2,159.3 681.6,163.7 682.0,166.2 C682.4,168.7 682.1,170.8 680.8,172.0 C679.4,173.2 677.0,172.2 673.9,173.2 C670.8,174.2 669.4,176.6 662.4,177.8 C655.4,179.0 641.9,180.0 632.0,180.2 C622.1,180.4 609.4,179.2 602.9,179.1 C596.4,179.0 595.8,179.8 593.0,179.5 C590.2,179.2 587.9,178.8 586.0,177.5 C584.1,176.2 582.0,174.3 581.5,172.0 C581.0,169.7 582.8,167.8 583.3,163.7 C583.8,159.6 583.9,153.7 584.4,147.2 C584.9,140.7 586.4,129.7 586.4,124.5 C586.4,119.3 584.9,121.4 584.4,116.2 C583.9,111.0 583.3,98.6 583.3,93.6 C583.3,88.6 583.7,87.0 584.4,86.3Z" fill="#935548"/>
<clipPath id="tc4"><path d="M584.4,86.3 C585.1,85.6 585.5,88.7 587.5,89.4 C589.5,90.1 593.5,89.6 596.7,90.5 C600.0,91.4 603.2,93.1 607.0,94.6 C610.8,96.1 616.7,98.3 619.4,99.7 C622.1,101.1 620.6,102.6 623.1,102.7 C625.6,102.8 631.5,102.1 634.6,100.4 C637.7,98.7 640.1,94.4 641.6,92.3 C643.1,90.2 642.0,88.7 643.9,87.7 C645.8,86.8 650.2,86.6 653.1,86.6 C656.0,86.6 660.2,86.9 661.2,87.7 C662.2,88.5 658.7,88.5 658.9,91.2 C659.1,93.9 662.0,100.2 662.4,103.9 C662.8,107.6 662.0,110.0 661.2,113.1 C660.4,116.2 656.9,120.9 657.7,122.4 C658.5,124.0 663.3,121.8 665.8,122.4 C668.3,123.0 671.7,123.9 672.7,125.8 C673.7,127.7 672.6,131.0 671.6,133.9 C670.6,136.8 667.0,140.0 667.0,143.1 C667.0,146.2 669.7,150.1 671.6,152.4 C673.5,154.7 676.8,154.7 678.5,157.0 C680.2,159.3 681.6,163.7 682.0,166.2 C682.4,168.7 682.1,170.8 680.8,172.0 C679.4,173.2 677.0,172.2 673.9,173.2 C670.8,174.2 669.4,176.6 662.4,177.8 C655.4,179.0 641.9,180.0 632.0,180.2 C622.1,180.4 609.4,179.2 602.9,179.1 C596.4,179.0 595.8,179.8 593.0,179.5 C590.2,179.2 587.9,178.8 586.0,177.5 C584.1,176.2 582.0,174.3 581.5,172.0 C581.0,169.7 582.8,167.8 583.3,163.7 C583.8,159.6 583.9,153.7 584.4,147.2 C584.9,140.7 586.4,129.7 586.4,124.5 C586.4,119.3 584.9,121.4 584.4,116.2 C583.9,111.0 583.3,98.6 583.3,93.6 C583.3,88.6 583.7,87.0 584.4,86.3Z"/></clipPath><g clip-path="url(#tc4)" filter="url(#vblur)">
<ellipse cx="610" cy="105" rx="25" ry="10" fill="#9e6050" opacity="0.55"/>
<ellipse cx="630" cy="130" rx="40" ry="6" fill="#7c3e34" opacity="0.5"/>
<ellipse cx="625" cy="165" rx="40" ry="9" fill="#aa6c5e" opacity="0.55"/>
<ellipse cx="655" cy="100" rx="8" ry="10" fill="#a86656" opacity="0.5"/>
</g>
<path d="M584.4,86.3 C585.1,85.6 585.5,88.7 587.5,89.4 C589.5,90.1 593.5,89.6 596.7,90.5 C600.0,91.4 603.2,93.1 607.0,94.6 C610.8,96.1 616.7,98.3 619.4,99.7 C622.1,101.1 620.6,102.6 623.1,102.7 C625.6,102.8 631.5,102.1 634.6,100.4 C637.7,98.7 640.1,94.4 641.6,92.3 C643.1,90.2 642.0,88.7 643.9,87.7 C645.8,86.8 650.2,86.6 653.1,86.6 C656.0,86.6 660.2,86.9 661.2,87.7 C662.2,88.5 658.7,88.5 658.9,91.2 C659.1,93.9 662.0,100.2 662.4,103.9 C662.8,107.6 662.0,110.0 661.2,113.1 C660.4,116.2 656.9,120.9 657.7,122.4 C658.5,124.0 663.3,121.8 665.8,122.4 C668.3,123.0 671.7,123.9 672.7,125.8 C673.7,127.7 672.6,131.0 671.6,133.9 C670.6,136.8 667.0,140.0 667.0,143.1 C667.0,146.2 669.7,150.1 671.6,152.4 C673.5,154.7 676.8,154.7 678.5,157.0 C680.2,159.3 681.6,163.7 682.0,166.2 C682.4,168.7 682.1,170.8 680.8,172.0 C679.4,173.2 677.0,172.2 673.9,173.2 C670.8,174.2 669.4,176.6 662.4,177.8 C655.4,179.0 641.9,180.0 632.0,180.2 C622.1,180.4 609.4,179.2 602.9,179.1 C596.4,179.0 595.8,179.8 593.0,179.5 C590.2,179.2 587.9,178.8 586.0,177.5 C584.1,176.2 582.0,174.3 581.5,172.0 C581.0,169.7 582.8,167.8 583.3,163.7 C583.8,159.6 583.9,153.7 584.4,147.2 C584.9,140.7 586.4,129.7 586.4,124.5 C586.4,119.3 584.9,121.4 584.4,116.2 C583.9,111.0 583.3,98.6 583.3,93.6 C583.3,88.6 583.7,87.0 584.4,86.3Z" fill="#f4cfc4" filter="url(#texd)" opacity="0.5"/>
<filter id="tx4" x="0" y="0" width="100%" height="100%"><feTurbulence type="fractalNoise" baseFrequency="0.05 0.22" numOctaves="3" seed="7" result="n"/><feColorMatrix in="n" type="matrix" values="0 0 0 0 0.957  0 0 0 0 0.812  0 0 0 0 0.769  1.3 0 0 0 -0.55" result="m"/><feComposite in="m" in2="SourceGraphic" operator="in"/></filter>
<filter id="tf4" x="0" y="0" width="100%" height="100%"><feTurbulence type="fractalNoise" baseFrequency="0.3 0.8" numOctaves="2" seed="9" result="n"/><feColorMatrix in="n" type="matrix" values="0 0 0 0 0.957  0 0 0 0 0.812  0 0 0 0 0.769  2.2 0 0 0 -1.15" result="m"/><feComposite in="m" in2="SourceGraphic" operator="in"/></filter>
<path d="M584.4,86.3 C585.1,85.6 585.5,88.7 587.5,89.4 C589.5,90.1 593.5,89.6 596.7,90.5 C600.0,91.4 603.2,93.1 607.0,94.6 C610.8,96.1 616.7,98.3 619.4,99.7 C622.1,101.1 620.6,102.6 623.1,102.7 C625.6,102.8 631.5,102.1 634.6,100.4 C637.7,98.7 640.1,94.4 641.6,92.3 C643.1,90.2 642.0,88.7 643.9,87.7 C645.8,86.8 650.2,86.6 653.1,86.6 C656.0,86.6 660.2,86.9 661.2,87.7 C662.2,88.5 658.7,88.5 658.9,91.2 C659.1,93.9 662.0,100.2 662.4,103.9 C662.8,107.6 662.0,110.0 661.2,113.1 C660.4,116.2 656.9,120.9 657.7,122.4 C658.5,124.0 663.3,121.8 665.8,122.4 C668.3,123.0 671.7,123.9 672.7,125.8 C673.7,127.7 672.6,131.0 671.6,133.9 C670.6,136.8 667.0,140.0 667.0,143.1 C667.0,146.2 669.7,150.1 671.6,152.4 C673.5,154.7 676.8,154.7 678.5,157.0 C680.2,159.3 681.6,163.7 682.0,166.2 C682.4,168.7 682.1,170.8 680.8,172.0 C679.4,173.2 677.0,172.2 673.9,173.2 C670.8,174.2 669.4,176.6 662.4,177.8 C655.4,179.0 641.9,180.0 632.0,180.2 C622.1,180.4 609.4,179.2 602.9,179.1 C596.4,179.0 595.8,179.8 593.0,179.5 C590.2,179.2 587.9,178.8 586.0,177.5 C584.1,176.2 582.0,174.3 581.5,172.0 C581.0,169.7 582.8,167.8 583.3,163.7 C583.8,159.6 583.9,153.7 584.4,147.2 C584.9,140.7 586.4,129.7 586.4,124.5 C586.4,119.3 584.9,121.4 584.4,116.2 C583.9,111.0 583.3,98.6 583.3,93.6 C583.3,88.6 583.7,87.0 584.4,86.3Z" fill="#fff" filter="url(#tx4)" opacity="0.3"/>
<path d="M584.4,86.3 C585.1,85.6 585.5,88.7 587.5,89.4 C589.5,90.1 593.5,89.6 596.7,90.5 C600.0,91.4 603.2,93.1 607.0,94.6 C610.8,96.1 616.7,98.3 619.4,99.7 C622.1,101.1 620.6,102.6 623.1,102.7 C625.6,102.8 631.5,102.1 634.6,100.4 C637.7,98.7 640.1,94.4 641.6,92.3 C643.1,90.2 642.0,88.7 643.9,87.7 C645.8,86.8 650.2,86.6 653.1,86.6 C656.0,86.6 660.2,86.9 661.2,87.7 C662.2,88.5 658.7,88.5 658.9,91.2 C659.1,93.9 662.0,100.2 662.4,103.9 C662.8,107.6 662.0,110.0 661.2,113.1 C660.4,116.2 656.9,120.9 657.7,122.4 C658.5,124.0 663.3,121.8 665.8,122.4 C668.3,123.0 671.7,123.9 672.7,125.8 C673.7,127.7 672.6,131.0 671.6,133.9 C670.6,136.8 667.0,140.0 667.0,143.1 C667.0,146.2 669.7,150.1 671.6,152.4 C673.5,154.7 676.8,154.7 678.5,157.0 C680.2,159.3 681.6,163.7 682.0,166.2 C682.4,168.7 682.1,170.8 680.8,172.0 C679.4,173.2 677.0,172.2 673.9,173.2 C670.8,174.2 669.4,176.6 662.4,177.8 C655.4,179.0 641.9,180.0 632.0,180.2 C622.1,180.4 609.4,179.2 602.9,179.1 C596.4,179.0 595.8,179.8 593.0,179.5 C590.2,179.2 587.9,178.8 586.0,177.5 C584.1,176.2 582.0,174.3 581.5,172.0 C581.0,169.7 582.8,167.8 583.3,163.7 C583.8,159.6 583.9,153.7 584.4,147.2 C584.9,140.7 586.4,129.7 586.4,124.5 C586.4,119.3 584.9,121.4 584.4,116.2 C583.9,111.0 583.3,98.6 583.3,93.6 C583.3,88.6 583.7,87.0 584.4,86.3Z" fill="#fff" filter="url(#tf4)" opacity="0.25"/>
<path d="M582.5,171.0 C583.1,170.4 585.6,173.0 587.0,174.5 C588.4,176.0 589.8,178.1 591.0,180.0 C592.2,181.9 594.0,184.6 594.0,186.0 C594.0,187.4 592.1,188.7 591.0,188.5 C589.9,188.3 588.8,186.8 587.5,185.0 C586.2,183.2 584.3,180.3 583.5,178.0 C582.7,175.7 581.9,171.6 582.5,171.0Z" fill="#c99580" opacity="0.95"/>
<circle cx="617.8" cy="148.3" r="3.4" fill="none" stroke="#fff" stroke-width="1.5" stroke-dasharray="3,2.2"/>
<circle cx="638.1" cy="148.3" r="3.4" fill="none" stroke="#fff" stroke-width="1.5" stroke-dasharray="3,2.2"/>
</g>
</svg>
</body></html>
